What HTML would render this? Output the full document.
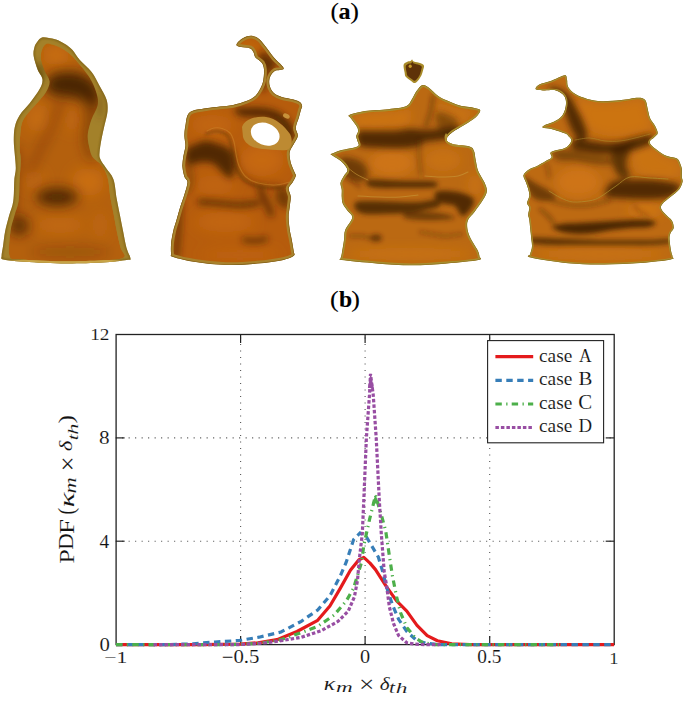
<!DOCTYPE html>
<html><head><meta charset="utf-8"><style>
html,body{margin:0;padding:0;background:#fff;}
svg{display:block;}
.t{font-family:"Liberation Serif",serif;font-size:18px;fill:#111;}
.b{font-family:"Liberation Serif",serif;font-size:26px;font-weight:bold;fill:#000;}
</style></head><body>
<svg width="685" height="709" viewBox="0 0 685 709">
<defs>
<filter id="g0_8" x="-50%" y="-50%" width="200%" height="200%"><feGaussianBlur stdDeviation="0.8"/></filter>
<filter id="g1_5" x="-50%" y="-50%" width="200%" height="200%"><feGaussianBlur stdDeviation="1.5"/></filter>
<filter id="g2_5" x="-50%" y="-50%" width="200%" height="200%"><feGaussianBlur stdDeviation="2.5"/></filter>
<filter id="g3" x="-50%" y="-50%" width="200%" height="200%"><feGaussianBlur stdDeviation="3"/></filter>
<filter id="g3_5" x="-50%" y="-50%" width="200%" height="200%"><feGaussianBlur stdDeviation="3.5"/></filter>
<filter id="g4" x="-50%" y="-50%" width="200%" height="200%"><feGaussianBlur stdDeviation="4"/></filter>
<filter id="g5" x="-50%" y="-50%" width="200%" height="200%"><feGaussianBlur stdDeviation="5"/></filter>
<filter id="g6" x="-50%" y="-50%" width="200%" height="200%"><feGaussianBlur stdDeviation="6"/></filter>
<filter id="g7" x="-50%" y="-50%" width="200%" height="200%"><feGaussianBlur stdDeviation="7"/></filter>
<clipPath id="c1"><path d="M41.9,37.6 C43.8,37.0 46.5,37.7 48.9,38.0 C51.2,38.3 53.3,38.5 56.0,39.5 C58.7,40.5 62.2,42.2 65.0,44.0 C67.8,45.8 70.0,47.3 72.5,50.0 C75.0,52.7 76.6,56.4 79.8,60.0 C83.0,63.6 88.3,67.6 91.6,71.9 C94.9,76.2 97.0,81.1 99.5,85.7 C102.0,90.3 105.2,95.2 106.5,99.5 C107.8,103.8 107.8,107.1 107.5,111.4 C107.2,115.7 105.5,120.7 104.5,125.3 C103.5,129.9 102.3,134.5 101.5,139.1 C100.7,143.7 99.7,149.5 99.5,152.9 C99.3,156.3 99.4,157.0 100.5,159.5 C101.6,162.0 103.8,164.6 106.0,167.9 C108.2,171.2 111.6,174.1 113.4,179.2 C115.2,184.3 115.6,192.8 116.7,198.7 C117.8,204.6 118.8,209.5 119.9,214.9 C121.0,220.3 122.0,225.8 123.1,231.2 C124.2,236.6 125.2,242.8 126.4,247.4 C127.6,252.0 130.4,256.4 130.5,258.5 C130.6,260.6 131.4,259.3 126.7,260.0 C122.0,260.7 113.1,262.0 102.2,262.6 C91.3,263.2 74.9,263.7 61.3,263.5 C47.7,263.3 30.1,262.3 20.4,261.6 C10.7,260.9 6.2,260.4 3.1,259.5 C-0.0,258.6 1.6,258.3 1.6,256.0 C1.6,253.7 2.5,249.9 3.1,245.8 C3.7,241.7 4.1,236.6 5.1,231.5 C6.1,226.4 7.8,220.3 9.2,215.2 C10.6,210.1 12.5,206.7 13.3,200.9 C14.2,195.1 13.9,185.8 14.3,180.4 C14.7,175.0 15.7,172.7 15.8,168.4 C15.9,164.1 15.1,159.2 14.8,154.6 C14.5,150.0 13.8,145.3 13.8,140.7 C13.8,136.1 13.8,131.2 14.8,126.9 C15.8,122.6 17.3,119.0 19.8,115.0 C22.3,111.0 26.4,107.5 29.7,103.2 C33.0,98.9 37.4,93.3 39.5,89.3 C41.6,85.3 42.8,82.7 42.5,79.4 C42.2,76.1 39.1,73.5 37.6,69.5 C36.1,65.5 34.1,59.5 33.6,55.7 C33.1,52.0 33.9,49.4 34.5,47.0 C35.1,44.6 36.3,43.1 37.5,41.5 C38.7,39.9 40.0,38.2 41.9,37.6Z"/></clipPath>
<clipPath id="c2"><path d="M236.4,45.1 C236.2,44.0 238.0,41.9 239.7,40.5 C241.3,39.1 244.1,37.4 246.3,36.6 C248.5,35.8 250.7,35.5 252.9,35.9 C255.1,36.3 257.2,37.3 259.4,39.2 C261.6,41.1 263.6,44.0 266.0,47.1 C268.4,50.2 271.3,54.5 273.9,57.6 C276.5,60.7 280.2,63.6 281.8,65.5 C283.4,67.4 283.9,68.0 283.7,68.8 C283.5,69.6 281.8,69.8 280.4,70.1 C279.0,70.4 276.7,69.9 275.2,70.7 C273.7,71.5 272.2,73.2 271.2,74.7 C270.2,76.2 269.5,77.9 269.3,79.9 C269.1,81.9 269.1,84.3 269.9,86.5 C270.7,88.7 271.9,91.3 273.9,93.1 C275.9,94.8 278.5,95.9 281.8,97.0 C285.1,98.1 290.5,98.7 293.6,99.6 C296.7,100.5 298.8,101.2 300.2,102.3 C301.6,103.4 302.0,104.9 302.1,106.2 C302.2,107.5 301.4,108.1 300.9,110.0 C300.4,111.9 299.8,114.5 298.9,117.5 C298.0,120.5 296.0,124.6 295.8,127.7 C295.6,130.8 298.1,133.2 297.8,135.9 C297.5,138.6 295.2,141.3 293.8,144.0 C292.4,146.7 290.2,149.1 289.7,152.2 C289.2,155.3 289.8,159.0 290.7,162.4 C291.6,165.8 293.9,170.4 294.8,172.7 C295.7,175.0 296.2,174.5 295.8,176.1 C295.4,177.7 293.9,180.2 292.7,182.3 C291.5,184.4 288.9,186.0 288.6,188.4 C288.3,190.8 290.5,193.5 290.7,196.6 C290.9,199.7 290.0,203.4 289.7,206.8 C289.4,210.2 288.6,213.2 288.6,217.0 C288.6,220.8 289.2,225.6 289.7,229.3 C290.2,233.1 291.0,235.8 291.7,239.5 C292.4,243.2 293.4,249.0 293.8,251.7 C294.2,254.4 295.5,254.4 293.8,255.8 C292.1,257.2 289.6,258.6 283.5,259.9 C277.4,261.2 266.5,262.8 257.0,263.6 C247.5,264.5 236.5,265.3 226.3,265.0 C216.1,264.7 204.5,263.4 195.7,262.0 C186.8,260.6 177.3,258.3 173.2,256.9 C169.1,255.5 171.4,256.0 171.1,253.8 C170.8,251.6 170.8,247.3 171.1,243.6 C171.4,239.8 172.3,235.1 173.2,231.3 C174.0,227.6 175.0,225.2 176.2,221.1 C177.4,217.0 178.9,211.2 180.3,206.8 C181.7,202.4 183.2,198.6 184.4,194.5 C185.6,190.4 187.5,185.3 187.5,182.3 C187.5,179.3 185.2,179.3 184.4,176.7 C183.6,174.1 182.6,169.9 182.4,166.5 C182.2,163.1 182.9,159.7 183.4,156.3 C183.9,152.9 185.2,149.5 185.4,146.1 C185.6,142.7 184.4,139.3 184.4,135.9 C184.4,132.5 184.6,129.6 185.4,125.7 C186.2,121.8 186.1,115.3 189.5,112.4 C192.9,109.5 200.8,109.3 205.9,108.3 C211.0,107.3 215.5,107.1 220.0,106.5 C224.5,105.9 228.7,105.8 233.1,104.9 C237.5,104.0 242.6,102.5 246.3,101.0 C250.0,99.5 253.1,97.9 255.5,95.7 C257.9,93.5 259.4,90.4 260.7,87.8 C262.0,85.2 262.8,83.0 263.4,79.9 C263.9,76.8 264.2,72.2 264.0,69.4 C263.8,66.6 263.4,64.9 262.0,62.9 C260.6,60.9 256.9,59.4 255.5,57.6 C254.1,55.8 254.4,53.8 253.5,52.3 C252.6,50.8 252.3,49.3 250.2,48.4 C248.1,47.5 243.3,47.6 241.0,47.1 C238.7,46.6 236.6,46.2 236.4,45.1Z"/></clipPath>
<clipPath id="c3"><path d="M422.5,85.1 C424.5,84.5 426.0,85.7 428.6,87.5 C431.2,89.3 435.0,93.7 438.2,95.9 C441.4,98.1 444.2,99.2 447.8,100.8 C451.4,102.4 455.5,104.4 459.9,105.6 C464.3,106.8 470.9,107.2 474.3,108.0 C477.7,108.8 480.1,108.8 480.3,110.4 C480.5,112.0 478.1,115.2 475.5,117.6 C472.9,120.0 468.5,122.4 464.7,124.8 C460.9,127.2 455.6,129.7 452.6,132.1 C449.6,134.5 446.6,137.3 446.6,139.3 C446.6,141.3 448.8,142.9 452.6,144.1 C456.4,145.3 465.9,145.3 469.5,146.5 C473.1,147.7 473.0,148.8 474.0,151.0 C475.0,153.2 475.0,156.7 475.7,160.0 C476.4,163.3 476.8,167.3 478.2,171.0 C479.6,174.7 482.9,179.0 484.4,182.3 C485.8,185.6 487.1,188.1 486.9,191.0 C486.7,193.9 485.3,196.1 483.2,199.6 C481.1,203.1 477.0,208.7 474.5,212.0 C472.0,215.3 469.5,217.0 468.3,219.5 C467.1,222.0 467.0,224.2 467.2,227.0 C467.4,229.8 468.3,233.0 469.5,236.0 C470.7,239.0 473.1,242.5 474.5,245.0 C475.9,247.5 477.2,249.1 478.0,251.0 C478.8,252.9 479.4,254.9 479.5,256.4 C479.6,257.9 483.8,258.8 478.3,260.0 C472.9,261.2 457.9,262.5 446.8,263.4 C435.7,264.3 423.5,265.3 411.8,265.3 C400.1,265.3 388.4,264.3 376.7,263.4 C365.0,262.5 347.7,260.8 341.7,260.0 C335.7,259.2 340.5,259.8 340.5,258.8 C340.5,257.8 341.1,257.1 341.7,254.0 C342.3,250.9 343.4,244.0 344.0,240.0 C344.6,236.0 343.8,233.7 345.2,230.0 C346.6,226.3 351.8,220.9 352.2,217.7 C352.6,214.5 349.1,213.0 347.5,210.7 C345.9,208.4 343.8,206.0 342.8,203.7 C341.8,201.4 341.9,199.0 341.7,196.7 C341.5,194.4 341.9,192.0 341.7,189.7 C341.5,187.4 340.1,185.0 340.5,182.7 C340.9,180.4 342.8,177.8 344.0,175.7 C345.2,173.6 347.9,172.2 347.5,169.9 C347.1,167.6 344.4,164.2 341.7,161.7 C339.0,159.2 332.8,156.0 331.2,154.7 C329.6,153.3 330.6,154.4 332.3,153.6 C334.1,152.8 338.2,151.0 341.7,150.0 C345.2,149.0 350.6,148.5 353.4,147.7 C356.2,146.9 357.9,146.6 358.6,145.4 C359.3,144.2 357.8,142.3 357.4,140.7 C357.0,139.1 356.2,137.6 356.3,136.0 C356.4,134.4 357.9,133.0 358.0,131.4 C358.1,129.8 358.1,128.8 356.9,126.7 C355.7,124.5 352.3,120.5 351.0,118.5 C349.7,116.5 347.0,116.2 349.3,115.0 C351.6,113.8 358.5,112.0 365.0,111.0 C371.5,110.0 381.6,110.0 388.4,109.2 C395.2,108.4 402.1,107.9 406.0,106.3 C409.9,104.7 409.9,102.1 411.7,99.6 C413.4,97.1 414.7,93.5 416.5,91.1 C418.3,88.7 420.5,85.7 422.5,85.1Z"/></clipPath>
<clipPath id="c4"><path d="M535.7,89.3 C534.9,88.3 536.7,85.9 539.3,84.5 C541.9,83.1 547.1,82.3 551.3,80.8 C555.5,79.3 562.0,75.5 564.6,75.3 C567.2,75.1 566.4,77.7 567.0,79.6 C567.6,81.5 566.8,84.5 568.2,86.9 C569.6,89.3 572.2,92.1 575.4,94.1 C578.6,96.1 583.0,97.7 587.4,98.9 C591.8,100.1 596.3,101.1 601.9,101.3 C607.5,101.5 615.2,100.7 621.2,100.1 C627.2,99.5 634.0,97.7 638.0,97.7 C642.0,97.7 643.6,98.3 645.2,100.1 C646.8,101.9 646.8,105.5 647.6,108.5 C648.4,111.5 648.9,115.4 650.1,118.2 C651.3,121.0 653.6,122.9 654.9,125.4 C656.2,127.9 657.8,131.1 657.7,133.0 C657.7,134.9 656.0,135.4 654.6,137.0 C653.2,138.6 649.2,140.2 649.6,142.4 C650.0,144.6 654.1,147.6 657.0,149.9 C659.9,152.2 663.7,154.6 667.0,156.0 C670.3,157.4 674.7,157.1 677.0,158.5 C679.3,159.9 679.8,162.8 680.6,164.7 C681.4,166.6 681.7,167.6 681.9,169.7 C682.1,171.8 681.8,175.0 681.9,177.1 C682.0,179.2 683.0,180.0 682.5,182.1 C682.0,184.2 681.1,187.1 679.1,189.6 C677.1,192.1 673.5,194.4 670.7,196.8 C667.9,199.2 664.0,202.0 662.4,204.0 C660.8,206.0 660.6,207.0 661.2,208.8 C661.8,210.6 664.2,212.8 666.0,214.8 C667.8,216.8 670.7,218.5 672.0,220.7 C673.3,222.9 673.9,226.0 673.7,228.0 C673.5,230.0 671.4,231.1 670.7,232.7 C670.0,234.3 669.6,235.5 669.5,237.5 C669.4,239.5 669.8,242.3 670.1,244.7 C670.4,247.1 670.9,249.9 671.3,251.9 C671.7,253.9 672.6,255.4 672.5,256.7 C672.4,258.0 676.1,258.4 670.7,259.5 C665.4,260.6 651.5,262.2 640.4,263.0 C629.3,263.8 616.3,264.4 604.3,264.5 C592.3,264.6 580.5,264.5 568.2,263.3 C556.0,262.1 537.1,259.1 530.8,257.5 C524.5,255.9 530.0,255.9 530.2,254.0 C530.4,252.1 531.9,249.6 532.0,246.3 C532.1,243.0 531.2,238.7 530.8,234.3 C530.3,229.9 529.7,223.3 529.3,220.0 C528.9,216.7 528.2,216.8 528.2,214.7 C528.2,212.6 529.5,209.6 529.3,207.7 C529.1,205.8 527.0,204.9 527.0,203.0 C527.0,201.1 529.1,198.3 529.3,196.0 C529.5,193.7 528.8,191.3 528.2,189.0 C527.6,186.7 526.6,184.3 525.8,182.0 C525.0,179.7 522.9,177.1 523.5,175.0 C524.1,172.9 527.0,170.8 529.3,169.2 C531.6,167.6 534.8,167.1 537.5,165.7 C540.2,164.3 543.4,162.4 545.7,161.0 C548.0,159.6 550.7,158.9 551.5,157.5 C552.3,156.1 549.8,154.0 550.4,152.8 C551.0,151.6 552.7,151.3 555.0,150.5 C557.3,149.7 562.1,149.2 564.4,148.2 C566.7,147.2 567.8,146.1 569.0,144.7 C570.2,143.3 571.5,141.4 571.4,140.0 C571.3,138.6 569.1,137.0 568.2,136.0 C567.3,135.0 568.6,135.0 565.8,133.8 C563.0,132.6 555.1,130.0 551.3,129.0 C547.5,128.0 544.1,128.4 542.9,127.8 C541.7,127.2 542.3,126.4 544.1,125.4 C545.9,124.4 550.7,123.4 553.7,121.8 C556.7,120.2 560.1,118.4 562.1,115.8 C564.1,113.2 565.4,109.3 565.8,106.1 C566.2,102.9 566.2,99.1 564.6,96.5 C563.0,93.9 559.5,91.5 556.1,90.5 C552.7,89.5 547.5,90.7 544.1,90.5 C540.7,90.3 536.5,90.3 535.7,89.3Z"/></clipPath>
<clipPath id="c1i"><path d="M46.3,43.8 C48.0,42.9 49.7,43.9 52.0,44.5 C54.3,45.1 57.3,46.2 60.0,47.5 C62.7,48.8 65.4,50.4 68.0,52.5 C70.6,54.6 72.2,55.8 75.8,60.0 C79.4,64.2 86.2,72.2 89.7,77.8 C93.2,83.4 95.3,89.0 96.6,93.6 C97.9,98.2 98.4,101.2 97.6,105.5 C96.8,109.8 93.2,114.4 91.6,119.3 C89.9,124.2 88.0,130.2 87.7,135.1 C87.4,140.0 88.9,145.4 89.7,149.0 C90.5,152.6 91.0,154.6 92.6,156.9 C94.2,159.2 97.6,161.0 99.5,163.0 C101.4,165.0 102.6,166.3 104.0,169.0 C105.4,171.7 106.9,174.2 108.0,179.2 C109.1,184.1 109.6,192.8 110.6,198.7 C111.6,204.6 112.8,209.5 113.8,214.9 C114.8,220.3 115.7,225.8 116.8,231.2 C117.9,236.6 119.3,243.0 120.5,247.4 C121.7,251.8 126.9,255.3 123.8,257.5 C120.7,259.6 112.4,259.7 102.0,260.3 C91.6,260.9 75.0,261.5 61.3,261.3 C47.6,261.1 28.6,260.2 20.0,259.3 C11.4,258.4 11.1,260.6 9.5,256.0 C7.9,251.4 9.7,238.3 10.5,231.5 C11.3,224.7 13.2,220.3 14.5,215.2 C15.8,210.1 17.8,206.7 18.6,200.9 C19.5,195.1 19.2,187.2 19.6,180.4 C20.0,173.6 20.8,165.3 20.8,160.0 C20.8,154.7 19.8,153.8 19.8,148.6 C19.8,143.4 20.0,134.1 20.8,128.9 C21.6,123.7 22.1,121.7 24.7,117.5 C27.3,113.3 32.7,108.2 36.2,104.0 C39.8,99.8 43.8,95.8 46.0,92.0 C48.2,88.2 49.8,84.8 49.6,81.4 C49.4,78.0 46.2,75.1 44.8,71.5 C43.4,67.9 41.5,63.3 41.0,59.7 C40.5,56.1 41.1,52.4 42.0,49.8 C42.9,47.1 44.6,44.7 46.3,43.8Z"/></clipPath>
</defs>
<path d="M41.9,37.6 C43.8,37.0 46.5,37.7 48.9,38.0 C51.2,38.3 53.3,38.5 56.0,39.5 C58.7,40.5 62.2,42.2 65.0,44.0 C67.8,45.8 70.0,47.3 72.5,50.0 C75.0,52.7 76.6,56.4 79.8,60.0 C83.0,63.6 88.3,67.6 91.6,71.9 C94.9,76.2 97.0,81.1 99.5,85.7 C102.0,90.3 105.2,95.2 106.5,99.5 C107.8,103.8 107.8,107.1 107.5,111.4 C107.2,115.7 105.5,120.7 104.5,125.3 C103.5,129.9 102.3,134.5 101.5,139.1 C100.7,143.7 99.7,149.5 99.5,152.9 C99.3,156.3 99.4,157.0 100.5,159.5 C101.6,162.0 103.8,164.6 106.0,167.9 C108.2,171.2 111.6,174.1 113.4,179.2 C115.2,184.3 115.6,192.8 116.7,198.7 C117.8,204.6 118.8,209.5 119.9,214.9 C121.0,220.3 122.0,225.8 123.1,231.2 C124.2,236.6 125.2,242.8 126.4,247.4 C127.6,252.0 130.4,256.4 130.5,258.5 C130.6,260.6 131.4,259.3 126.7,260.0 C122.0,260.7 113.1,262.0 102.2,262.6 C91.3,263.2 74.9,263.7 61.3,263.5 C47.7,263.3 30.1,262.3 20.4,261.6 C10.7,260.9 6.2,260.4 3.1,259.5 C-0.0,258.6 1.6,258.3 1.6,256.0 C1.6,253.7 2.5,249.9 3.1,245.8 C3.7,241.7 4.1,236.6 5.1,231.5 C6.1,226.4 7.8,220.3 9.2,215.2 C10.6,210.1 12.5,206.7 13.3,200.9 C14.2,195.1 13.9,185.8 14.3,180.4 C14.7,175.0 15.7,172.7 15.8,168.4 C15.9,164.1 15.1,159.2 14.8,154.6 C14.5,150.0 13.8,145.3 13.8,140.7 C13.8,136.1 13.8,131.2 14.8,126.9 C15.8,122.6 17.3,119.0 19.8,115.0 C22.3,111.0 26.4,107.5 29.7,103.2 C33.0,98.9 37.4,93.3 39.5,89.3 C41.6,85.3 42.8,82.7 42.5,79.4 C42.2,76.1 39.1,73.5 37.6,69.5 C36.1,65.5 34.1,59.5 33.6,55.7 C33.1,52.0 33.9,49.4 34.5,47.0 C35.1,44.6 36.3,43.1 37.5,41.5 C38.7,39.9 40.0,38.2 41.9,37.6Z" fill="#a3812a"/>
<g clip-path="url(#c1)"><path d="M41.9,37.6 C43.8,37.0 46.5,37.7 48.9,38.0 C51.2,38.3 53.3,38.5 56.0,39.5 C58.7,40.5 62.2,42.2 65.0,44.0 C67.8,45.8 70.0,47.3 72.5,50.0 C75.0,52.7 76.6,56.4 79.8,60.0 C83.0,63.6 88.3,67.6 91.6,71.9 C94.9,76.2 97.0,81.1 99.5,85.7 C102.0,90.3 105.2,95.2 106.5,99.5 C107.8,103.8 107.8,107.1 107.5,111.4 C107.2,115.7 105.5,120.7 104.5,125.3 C103.5,129.9 102.3,134.5 101.5,139.1 C100.7,143.7 99.7,149.5 99.5,152.9 C99.3,156.3 99.4,157.0 100.5,159.5 C101.6,162.0 103.8,164.6 106.0,167.9 C108.2,171.2 111.6,174.1 113.4,179.2 C115.2,184.3 115.6,192.8 116.7,198.7 C117.8,204.6 118.8,209.5 119.9,214.9 C121.0,220.3 122.0,225.8 123.1,231.2 C124.2,236.6 125.2,242.8 126.4,247.4 C127.6,252.0 130.4,256.4 130.5,258.5 C130.6,260.6 131.4,259.3 126.7,260.0 C122.0,260.7 113.1,262.0 102.2,262.6 C91.3,263.2 74.9,263.7 61.3,263.5 C47.7,263.3 30.1,262.3 20.4,261.6 C10.7,260.9 6.2,260.4 3.1,259.5 C-0.0,258.6 1.6,258.3 1.6,256.0 C1.6,253.7 2.5,249.9 3.1,245.8 C3.7,241.7 4.1,236.6 5.1,231.5 C6.1,226.4 7.8,220.3 9.2,215.2 C10.6,210.1 12.5,206.7 13.3,200.9 C14.2,195.1 13.9,185.8 14.3,180.4 C14.7,175.0 15.7,172.7 15.8,168.4 C15.9,164.1 15.1,159.2 14.8,154.6 C14.5,150.0 13.8,145.3 13.8,140.7 C13.8,136.1 13.8,131.2 14.8,126.9 C15.8,122.6 17.3,119.0 19.8,115.0 C22.3,111.0 26.4,107.5 29.7,103.2 C33.0,98.9 37.4,93.3 39.5,89.3 C41.6,85.3 42.8,82.7 42.5,79.4 C42.2,76.1 39.1,73.5 37.6,69.5 C36.1,65.5 34.1,59.5 33.6,55.7 C33.1,52.0 33.9,49.4 34.5,47.0 C35.1,44.6 36.3,43.1 37.5,41.5 C38.7,39.9 40.0,38.2 41.9,37.6Z" fill="none" stroke="#7a6018" stroke-width="2" filter="url(#g0_8)"/>
<ellipse cx="66" cy="262" rx="64" ry="3" fill="#caa64a" opacity="0.95"/>
<g filter="url(#g3_5)">
<ellipse cx="40" cy="72" rx="6" ry="10" fill="#4a3008" opacity="0.45"/>
<ellipse cx="100" cy="105" rx="4" ry="14" fill="#4a3008" opacity="0.25"/>
</g>
</g>
<g clip-path="url(#c1i)">
<path d="M46.3,43.8 C48.0,42.9 49.7,43.9 52.0,44.5 C54.3,45.1 57.3,46.2 60.0,47.5 C62.7,48.8 65.4,50.4 68.0,52.5 C70.6,54.6 72.2,55.8 75.8,60.0 C79.4,64.2 86.2,72.2 89.7,77.8 C93.2,83.4 95.3,89.0 96.6,93.6 C97.9,98.2 98.4,101.2 97.6,105.5 C96.8,109.8 93.2,114.4 91.6,119.3 C89.9,124.2 88.0,130.2 87.7,135.1 C87.4,140.0 88.9,145.4 89.7,149.0 C90.5,152.6 91.0,154.6 92.6,156.9 C94.2,159.2 97.6,161.0 99.5,163.0 C101.4,165.0 102.6,166.3 104.0,169.0 C105.4,171.7 106.9,174.2 108.0,179.2 C109.1,184.1 109.6,192.8 110.6,198.7 C111.6,204.6 112.8,209.5 113.8,214.9 C114.8,220.3 115.7,225.8 116.8,231.2 C117.9,236.6 119.3,243.0 120.5,247.4 C121.7,251.8 126.9,255.3 123.8,257.5 C120.7,259.6 112.4,259.7 102.0,260.3 C91.6,260.9 75.0,261.5 61.3,261.3 C47.6,261.1 28.6,260.2 20.0,259.3 C11.4,258.4 11.1,260.6 9.5,256.0 C7.9,251.4 9.7,238.3 10.5,231.5 C11.3,224.7 13.2,220.3 14.5,215.2 C15.8,210.1 17.8,206.7 18.6,200.9 C19.5,195.1 19.2,187.2 19.6,180.4 C20.0,173.6 20.8,165.3 20.8,160.0 C20.8,154.7 19.8,153.8 19.8,148.6 C19.8,143.4 20.0,134.1 20.8,128.9 C21.6,123.7 22.1,121.7 24.7,117.5 C27.3,113.3 32.7,108.2 36.2,104.0 C39.8,99.8 43.8,95.8 46.0,92.0 C48.2,88.2 49.8,84.8 49.6,81.4 C49.4,78.0 46.2,75.1 44.8,71.5 C43.4,67.9 41.5,63.3 41.0,59.7 C40.5,56.1 41.1,52.4 42.0,49.8 C42.9,47.1 44.6,44.7 46.3,43.8Z" fill="#b4600d"/>
<g filter="url(#g7)">
<ellipse cx="56" cy="55" rx="14" ry="10" fill="#d27412" opacity="0.7"/>
<ellipse cx="38" cy="118" rx="12" ry="14" fill="#d27412" opacity="0.55"/>
<ellipse cx="72" cy="120" rx="8" ry="12" fill="#d27412" opacity="0.4"/>
<ellipse cx="88" cy="182" rx="16" ry="14" fill="#d27412" opacity="0.7"/>
<ellipse cx="34" cy="180" rx="10" ry="10" fill="#d27412" opacity="0.4"/>
<ellipse cx="60" cy="225" rx="25" ry="8" fill="#d27412" opacity="0.45"/>
<ellipse cx="100" cy="225" rx="8" ry="14" fill="#d27412" opacity="0.35"/>
</g>
<g filter="url(#g6)">
<path d="M46.0,82.0 C47.0,79.0 50.0,75.7 54.0,74.0 C58.0,72.3 64.7,71.7 70.0,72.0 C75.3,72.3 81.3,73.3 86.0,76.0 C90.7,78.7 95.7,83.3 98.0,88.0 C100.3,92.7 101.3,101.3 100.0,104.0 C98.7,106.7 94.0,105.0 90.0,104.0 C86.0,103.0 81.0,99.3 76.0,98.0 C71.0,96.7 64.7,97.0 60.0,96.0 C55.3,95.0 50.3,94.3 48.0,92.0 C45.7,89.7 45.0,85.0 46.0,82.0Z" fill="#3e2004" opacity="0.9"/>
<path d="M82.0,98.0 C83.3,96.5 89.2,94.0 92.0,96.0 C94.8,98.0 98.5,104.3 99.0,110.0 C99.5,115.7 96.0,123.3 95.0,130.0 C94.0,136.7 92.8,144.7 93.0,150.0 C93.2,155.3 96.8,160.7 96.0,162.0 C95.2,163.3 90.2,161.7 88.0,158.0 C85.8,154.3 83.5,146.3 83.0,140.0 C82.5,133.7 84.8,125.8 85.0,120.0 C85.2,114.2 84.5,108.7 84.0,105.0 C83.5,101.3 80.7,99.5 82.0,98.0Z" fill="#5a2c04" opacity="0.5"/>
<ellipse cx="57" cy="197" rx="21" ry="9" fill="#3e2004" opacity="0.85"/>
<ellipse cx="20" cy="226" rx="9" ry="10" fill="#3e2004" opacity="0.7"/>
<path d="M60.0,104.0 C58.3,108.3 53.3,122.3 50.0,130.0 C46.7,137.7 43.3,143.0 40.0,150.0 C36.7,157.0 31.7,168.3 30.0,172.0" fill="none" stroke="#3e2004" stroke-width="6" opacity="0.3" stroke-linecap="round"/>
<path d="M16.0,150.0 C15.7,156.7 14.7,176.7 14.0,190.0 C13.3,203.3 12.3,223.3 12.0,230.0" fill="none" stroke="#3e2004" stroke-width="8" opacity="0.35" stroke-linecap="round"/>
<ellipse cx="70" cy="252" rx="40" ry="6" fill="#3e2004" opacity="0.2"/>
</g>
</g>
<g clip-path="url(#c2)">
<path d="M236.4,45.1 C236.2,44.0 238.0,41.9 239.7,40.5 C241.3,39.1 244.1,37.4 246.3,36.6 C248.5,35.8 250.7,35.5 252.9,35.9 C255.1,36.3 257.2,37.3 259.4,39.2 C261.6,41.1 263.6,44.0 266.0,47.1 C268.4,50.2 271.3,54.5 273.9,57.6 C276.5,60.7 280.2,63.6 281.8,65.5 C283.4,67.4 283.9,68.0 283.7,68.8 C283.5,69.6 281.8,69.8 280.4,70.1 C279.0,70.4 276.7,69.9 275.2,70.7 C273.7,71.5 272.2,73.2 271.2,74.7 C270.2,76.2 269.5,77.9 269.3,79.9 C269.1,81.9 269.1,84.3 269.9,86.5 C270.7,88.7 271.9,91.3 273.9,93.1 C275.9,94.8 278.5,95.9 281.8,97.0 C285.1,98.1 290.5,98.7 293.6,99.6 C296.7,100.5 298.8,101.2 300.2,102.3 C301.6,103.4 302.0,104.9 302.1,106.2 C302.2,107.5 301.4,108.1 300.9,110.0 C300.4,111.9 299.8,114.5 298.9,117.5 C298.0,120.5 296.0,124.6 295.8,127.7 C295.6,130.8 298.1,133.2 297.8,135.9 C297.5,138.6 295.2,141.3 293.8,144.0 C292.4,146.7 290.2,149.1 289.7,152.2 C289.2,155.3 289.8,159.0 290.7,162.4 C291.6,165.8 293.9,170.4 294.8,172.7 C295.7,175.0 296.2,174.5 295.8,176.1 C295.4,177.7 293.9,180.2 292.7,182.3 C291.5,184.4 288.9,186.0 288.6,188.4 C288.3,190.8 290.5,193.5 290.7,196.6 C290.9,199.7 290.0,203.4 289.7,206.8 C289.4,210.2 288.6,213.2 288.6,217.0 C288.6,220.8 289.2,225.6 289.7,229.3 C290.2,233.1 291.0,235.8 291.7,239.5 C292.4,243.2 293.4,249.0 293.8,251.7 C294.2,254.4 295.5,254.4 293.8,255.8 C292.1,257.2 289.6,258.6 283.5,259.9 C277.4,261.2 266.5,262.8 257.0,263.6 C247.5,264.5 236.5,265.3 226.3,265.0 C216.1,264.7 204.5,263.4 195.7,262.0 C186.8,260.6 177.3,258.3 173.2,256.9 C169.1,255.5 171.4,256.0 171.1,253.8 C170.8,251.6 170.8,247.3 171.1,243.6 C171.4,239.8 172.3,235.1 173.2,231.3 C174.0,227.6 175.0,225.2 176.2,221.1 C177.4,217.0 178.9,211.2 180.3,206.8 C181.7,202.4 183.2,198.6 184.4,194.5 C185.6,190.4 187.5,185.3 187.5,182.3 C187.5,179.3 185.2,179.3 184.4,176.7 C183.6,174.1 182.6,169.9 182.4,166.5 C182.2,163.1 182.9,159.7 183.4,156.3 C183.9,152.9 185.2,149.5 185.4,146.1 C185.6,142.7 184.4,139.3 184.4,135.9 C184.4,132.5 184.6,129.6 185.4,125.7 C186.2,121.8 186.1,115.3 189.5,112.4 C192.9,109.5 200.8,109.3 205.9,108.3 C211.0,107.3 215.5,107.1 220.0,106.5 C224.5,105.9 228.7,105.8 233.1,104.9 C237.5,104.0 242.6,102.5 246.3,101.0 C250.0,99.5 253.1,97.9 255.5,95.7 C257.9,93.5 259.4,90.4 260.7,87.8 C262.0,85.2 262.8,83.0 263.4,79.9 C263.9,76.8 264.2,72.2 264.0,69.4 C263.8,66.6 263.4,64.9 262.0,62.9 C260.6,60.9 256.9,59.4 255.5,57.6 C254.1,55.8 254.4,53.8 253.5,52.3 C252.6,50.8 252.3,49.3 250.2,48.4 C248.1,47.5 243.3,47.6 241.0,47.1 C238.7,46.6 236.6,46.2 236.4,45.1Z" fill="#b65c0c"/>
<g filter="url(#g7)">
<ellipse cx="250" cy="50" rx="10" ry="6" fill="#d87a18" opacity="0.6" transform="rotate(30 250 50)"/>
<ellipse cx="212" cy="125" rx="22" ry="10" fill="#d07015" opacity="0.5"/>
<ellipse cx="262" cy="160" rx="22" ry="16" fill="#d07015" opacity="0.6"/>
<ellipse cx="215" cy="185" rx="20" ry="10" fill="#d07015" opacity="0.4"/>
<ellipse cx="225" cy="222" rx="30" ry="10" fill="#d07015" opacity="0.5"/>
<ellipse cx="240" cy="255" rx="40" ry="6" fill="#d07015" opacity="0.35"/>
</g>
<g filter="url(#g3_5)">
<path d="M262.0,52.0 C264.0,51.7 267.5,54.0 270.0,56.0 C272.5,58.0 276.7,61.7 277.0,64.0 C277.3,66.3 273.7,68.0 272.0,70.0 C270.3,72.0 268.0,73.0 267.0,76.0 C266.0,79.0 266.8,85.3 266.0,88.0 C265.2,90.7 263.0,93.3 262.0,92.0 C261.0,90.7 260.0,84.0 260.0,80.0 C260.0,76.0 262.3,71.7 262.0,68.0 C261.7,64.3 258.0,60.7 258.0,58.0 C258.0,55.3 260.0,52.3 262.0,52.0Z" fill="#3e2004" opacity="0.7"/>
<path d="M236.0,108.0 C238.0,107.2 243.7,108.0 248.0,108.0 C252.3,108.0 257.3,107.5 262.0,108.0 C266.7,108.5 272.0,109.3 276.0,111.0 C280.0,112.7 283.2,115.2 286.0,118.0 C288.8,120.8 291.7,124.0 293.0,128.0 C294.3,132.0 295.0,140.3 294.0,142.0 C293.0,143.7 289.3,140.7 287.0,138.0 C284.7,135.3 283.2,129.3 280.0,126.0 C276.8,122.7 272.3,119.5 268.0,118.0 C263.7,116.5 258.3,117.3 254.0,117.0 C249.7,116.7 245.0,116.7 242.0,116.0 C239.0,115.3 237.0,114.3 236.0,113.0 C235.0,111.7 234.0,108.8 236.0,108.0Z" fill="#3e2004" opacity="0.85"/>
<path d="M186.0,150.0 C187.3,146.7 192.7,145.5 196.0,144.0 C199.3,142.5 202.3,141.0 206.0,141.0 C209.7,141.0 214.0,142.5 218.0,144.0 C222.0,145.5 227.3,146.7 230.0,150.0 C232.7,153.3 233.7,159.3 234.0,164.0 C234.3,168.7 233.7,176.3 232.0,178.0 C230.3,179.7 227.0,176.3 224.0,174.0 C221.0,171.7 217.7,166.0 214.0,164.0 C210.3,162.0 206.3,162.0 202.0,162.0 C197.7,162.0 190.7,166.0 188.0,164.0 C185.3,162.0 184.7,153.3 186.0,150.0Z" fill="#3e2004" opacity="0.85"/>
<path d="M233.0,150.0 C233.5,152.5 234.2,160.5 236.0,165.0 C237.8,169.5 240.3,173.8 244.0,177.0 C247.7,180.2 252.3,182.5 258.0,184.0 C263.7,185.5 274.7,185.7 278.0,186.0" fill="none" stroke="#3e2004" stroke-width="3" opacity="0.45" stroke-linecap="round"/>
<path d="M200.0,202.0 C202.5,202.2 208.3,202.5 215.0,203.0 C221.7,203.5 232.8,205.0 240.0,205.0 C247.2,205.0 255.0,203.3 258.0,203.0" fill="none" stroke="#3e2004" stroke-width="5" opacity="0.8" stroke-linecap="round"/>
<path d="M278.0,188.0 C280.0,186.3 285.8,187.2 288.0,190.0 C290.2,192.8 291.7,202.0 291.0,205.0 C290.3,208.0 286.5,208.8 284.0,208.0 C281.5,207.2 277.0,203.3 276.0,200.0 C275.0,196.7 276.0,189.7 278.0,188.0Z" fill="#3e2004" opacity="0.55"/>
<path d="M260.0,190.0 C261.0,192.0 264.2,198.0 266.0,202.0 C267.8,206.0 270.2,212.0 271.0,214.0" fill="none" stroke="#3e2004" stroke-width="6" opacity="0.7" stroke-linecap="round"/>
<path d="M244.0,240.0 C246.0,240.2 252.3,241.2 256.0,241.0 C259.7,240.8 264.3,239.3 266.0,239.0" fill="none" stroke="#3e2004" stroke-width="4" opacity="0.85" stroke-linecap="round"/>
<path d="M179.0,200.0 C178.8,205.0 178.5,220.7 178.0,230.0 C177.5,239.3 176.3,251.7 176.0,256.0" fill="none" stroke="#3e2004" stroke-width="7" opacity="0.55" stroke-linecap="round"/>
<path d="M188.0,165.0 C188.5,167.5 191.2,175.5 191.0,180.0 C190.8,184.5 187.7,190.0 187.0,192.0" fill="none" stroke="#3e2004" stroke-width="5" opacity="0.4" stroke-linecap="round"/>
</g>
<path d="M207.0,131.0 C208.2,130.5 211.5,128.4 214.0,128.0 C216.5,127.6 219.3,127.7 222.0,128.5 C224.7,129.3 228.0,130.8 230.0,133.0 C232.0,135.2 233.0,138.5 234.0,142.0 C235.0,145.5 235.2,150.0 236.0,154.0 C236.8,158.0 237.3,162.2 239.0,166.0 C240.7,169.8 242.8,174.2 246.0,177.0 C249.2,179.8 253.0,181.7 258.0,183.0 C263.0,184.3 270.7,185.2 276.0,185.0 C281.3,184.8 287.7,182.5 290.0,182.0" fill="none" stroke="#d89030" stroke-width="1.2" opacity="0.45" stroke-linecap="round"/>
<g filter="url(#g1_5)"><path d="M206.0,134.0 C207.3,133.6 211.5,131.8 214.0,131.5 C216.5,131.2 218.7,131.2 221.0,132.0 C223.3,132.8 226.3,133.8 228.0,136.0 C229.7,138.2 230.2,141.5 231.0,145.0 C231.8,148.5 232.2,153.2 233.0,157.0 C233.8,160.8 234.3,164.3 236.0,168.0 C237.7,171.7 239.7,176.0 243.0,179.0 C246.3,182.0 250.5,184.5 256.0,186.0 C261.5,187.5 270.3,188.2 276.0,188.0 C281.7,187.8 287.7,185.5 290.0,185.0" fill="none" stroke="#3e2004" stroke-width="2" opacity="0.45" stroke-linecap="round"/></g>
<path d="M236.4,45.1 C236.2,44.0 238.0,41.9 239.7,40.5 C241.3,39.1 244.1,37.4 246.3,36.6 C248.5,35.8 250.7,35.5 252.9,35.9 C255.1,36.3 257.2,37.3 259.4,39.2 C261.6,41.1 263.6,44.0 266.0,47.1 C268.4,50.2 271.3,54.5 273.9,57.6 C276.5,60.7 280.2,63.6 281.8,65.5 C283.4,67.4 283.9,68.0 283.7,68.8 C283.5,69.6 281.8,69.8 280.4,70.1 C279.0,70.4 276.7,69.9 275.2,70.7 C273.7,71.5 272.2,73.2 271.2,74.7 C270.2,76.2 269.5,77.9 269.3,79.9 C269.1,81.9 269.1,84.3 269.9,86.5 C270.7,88.7 271.9,91.3 273.9,93.1 C275.9,94.8 278.5,95.9 281.8,97.0 C285.1,98.1 290.5,98.7 293.6,99.6 C296.7,100.5 298.8,101.2 300.2,102.3 C301.6,103.4 302.0,104.9 302.1,106.2 C302.2,107.5 301.4,108.1 300.9,110.0 C300.4,111.9 299.8,114.5 298.9,117.5 C298.0,120.5 296.0,124.6 295.8,127.7 C295.6,130.8 298.1,133.2 297.8,135.9 C297.5,138.6 295.2,141.3 293.8,144.0 C292.4,146.7 290.2,149.1 289.7,152.2 C289.2,155.3 289.8,159.0 290.7,162.4 C291.6,165.8 293.9,170.4 294.8,172.7 C295.7,175.0 296.2,174.5 295.8,176.1 C295.4,177.7 293.9,180.2 292.7,182.3 C291.5,184.4 288.9,186.0 288.6,188.4 C288.3,190.8 290.5,193.5 290.7,196.6 C290.9,199.7 290.0,203.4 289.7,206.8 C289.4,210.2 288.6,213.2 288.6,217.0 C288.6,220.8 289.2,225.6 289.7,229.3 C290.2,233.1 291.0,235.8 291.7,239.5 C292.4,243.2 293.4,249.0 293.8,251.7 C294.2,254.4 295.5,254.4 293.8,255.8 C292.1,257.2 289.6,258.6 283.5,259.9 C277.4,261.2 266.5,262.8 257.0,263.6 C247.5,264.5 236.5,265.3 226.3,265.0 C216.1,264.7 204.5,263.4 195.7,262.0 C186.8,260.6 177.3,258.3 173.2,256.9 C169.1,255.5 171.4,256.0 171.1,253.8 C170.8,251.6 170.8,247.3 171.1,243.6 C171.4,239.8 172.3,235.1 173.2,231.3 C174.0,227.6 175.0,225.2 176.2,221.1 C177.4,217.0 178.9,211.2 180.3,206.8 C181.7,202.4 183.2,198.6 184.4,194.5 C185.6,190.4 187.5,185.3 187.5,182.3 C187.5,179.3 185.2,179.3 184.4,176.7 C183.6,174.1 182.6,169.9 182.4,166.5 C182.2,163.1 182.9,159.7 183.4,156.3 C183.9,152.9 185.2,149.5 185.4,146.1 C185.6,142.7 184.4,139.3 184.4,135.9 C184.4,132.5 184.6,129.6 185.4,125.7 C186.2,121.8 186.1,115.3 189.5,112.4 C192.9,109.5 200.8,109.3 205.9,108.3 C211.0,107.3 215.5,107.1 220.0,106.5 C224.5,105.9 228.7,105.8 233.1,104.9 C237.5,104.0 242.6,102.5 246.3,101.0 C250.0,99.5 253.1,97.9 255.5,95.7 C257.9,93.5 259.4,90.4 260.7,87.8 C262.0,85.2 262.8,83.0 263.4,79.9 C263.9,76.8 264.2,72.2 264.0,69.4 C263.8,66.6 263.4,64.9 262.0,62.9 C260.6,60.9 256.9,59.4 255.5,57.6 C254.1,55.8 254.4,53.8 253.5,52.3 C252.6,50.8 252.3,49.3 250.2,48.4 C248.1,47.5 243.3,47.6 241.0,47.1 C238.7,46.6 236.6,46.2 236.4,45.1Z" fill="none" stroke="#a9822c" stroke-width="5.6"/>
<path d="M236.4,45.1 C236.2,44.0 238.0,41.9 239.7,40.5 C241.3,39.1 244.1,37.4 246.3,36.6 C248.5,35.8 250.7,35.5 252.9,35.9 C255.1,36.3 257.2,37.3 259.4,39.2 C261.6,41.1 263.6,44.0 266.0,47.1 C268.4,50.2 271.3,54.5 273.9,57.6 C276.5,60.7 280.2,63.6 281.8,65.5 C283.4,67.4 283.9,68.0 283.7,68.8 C283.5,69.6 281.8,69.8 280.4,70.1 C279.0,70.4 276.7,69.9 275.2,70.7 C273.7,71.5 272.2,73.2 271.2,74.7 C270.2,76.2 269.5,77.9 269.3,79.9 C269.1,81.9 269.1,84.3 269.9,86.5 C270.7,88.7 271.9,91.3 273.9,93.1 C275.9,94.8 278.5,95.9 281.8,97.0 C285.1,98.1 290.5,98.7 293.6,99.6 C296.7,100.5 298.8,101.2 300.2,102.3 C301.6,103.4 302.0,104.9 302.1,106.2 C302.2,107.5 301.4,108.1 300.9,110.0 C300.4,111.9 299.8,114.5 298.9,117.5 C298.0,120.5 296.0,124.6 295.8,127.7 C295.6,130.8 298.1,133.2 297.8,135.9 C297.5,138.6 295.2,141.3 293.8,144.0 C292.4,146.7 290.2,149.1 289.7,152.2 C289.2,155.3 289.8,159.0 290.7,162.4 C291.6,165.8 293.9,170.4 294.8,172.7 C295.7,175.0 296.2,174.5 295.8,176.1 C295.4,177.7 293.9,180.2 292.7,182.3 C291.5,184.4 288.9,186.0 288.6,188.4 C288.3,190.8 290.5,193.5 290.7,196.6 C290.9,199.7 290.0,203.4 289.7,206.8 C289.4,210.2 288.6,213.2 288.6,217.0 C288.6,220.8 289.2,225.6 289.7,229.3 C290.2,233.1 291.0,235.8 291.7,239.5 C292.4,243.2 293.4,249.0 293.8,251.7 C294.2,254.4 295.5,254.4 293.8,255.8 C292.1,257.2 289.6,258.6 283.5,259.9 C277.4,261.2 266.5,262.8 257.0,263.6 C247.5,264.5 236.5,265.3 226.3,265.0 C216.1,264.7 204.5,263.4 195.7,262.0 C186.8,260.6 177.3,258.3 173.2,256.9 C169.1,255.5 171.4,256.0 171.1,253.8 C170.8,251.6 170.8,247.3 171.1,243.6 C171.4,239.8 172.3,235.1 173.2,231.3 C174.0,227.6 175.0,225.2 176.2,221.1 C177.4,217.0 178.9,211.2 180.3,206.8 C181.7,202.4 183.2,198.6 184.4,194.5 C185.6,190.4 187.5,185.3 187.5,182.3 C187.5,179.3 185.2,179.3 184.4,176.7 C183.6,174.1 182.6,169.9 182.4,166.5 C182.2,163.1 182.9,159.7 183.4,156.3 C183.9,152.9 185.2,149.5 185.4,146.1 C185.6,142.7 184.4,139.3 184.4,135.9 C184.4,132.5 184.6,129.6 185.4,125.7 C186.2,121.8 186.1,115.3 189.5,112.4 C192.9,109.5 200.8,109.3 205.9,108.3 C211.0,107.3 215.5,107.1 220.0,106.5 C224.5,105.9 228.7,105.8 233.1,104.9 C237.5,104.0 242.6,102.5 246.3,101.0 C250.0,99.5 253.1,97.9 255.5,95.7 C257.9,93.5 259.4,90.4 260.7,87.8 C262.0,85.2 262.8,83.0 263.4,79.9 C263.9,76.8 264.2,72.2 264.0,69.4 C263.8,66.6 263.4,64.9 262.0,62.9 C260.6,60.9 256.9,59.4 255.5,57.6 C254.1,55.8 254.4,53.8 253.5,52.3 C252.6,50.8 252.3,49.3 250.2,48.4 C248.1,47.5 243.3,47.6 241.0,47.1 C238.7,46.6 236.6,46.2 236.4,45.1Z" fill="none" stroke="#6e5214" stroke-width="1.2" opacity="0.7"/>
</g>
<path d="M242,127 C245,119 256,116 266,117 C276,118 284,126 290,134 C293,140 292,148 287,150 C278,151 270,149 262,149 C252,148 245,144 243,137 Z" fill="#bd8a32"/>
<ellipse cx="265.2" cy="134.1" rx="14.8" ry="11" fill="#fff" transform="rotate(22 265.2 134.1)"/>
<ellipse cx="286.4" cy="116" rx="3.5" ry="2.3" fill="#c8923a" transform="rotate(25 286.4 116)"/>
<g clip-path="url(#c3)">
<path d="M422.5,85.1 C424.5,84.5 426.0,85.7 428.6,87.5 C431.2,89.3 435.0,93.7 438.2,95.9 C441.4,98.1 444.2,99.2 447.8,100.8 C451.4,102.4 455.5,104.4 459.9,105.6 C464.3,106.8 470.9,107.2 474.3,108.0 C477.7,108.8 480.1,108.8 480.3,110.4 C480.5,112.0 478.1,115.2 475.5,117.6 C472.9,120.0 468.5,122.4 464.7,124.8 C460.9,127.2 455.6,129.7 452.6,132.1 C449.6,134.5 446.6,137.3 446.6,139.3 C446.6,141.3 448.8,142.9 452.6,144.1 C456.4,145.3 465.9,145.3 469.5,146.5 C473.1,147.7 473.0,148.8 474.0,151.0 C475.0,153.2 475.0,156.7 475.7,160.0 C476.4,163.3 476.8,167.3 478.2,171.0 C479.6,174.7 482.9,179.0 484.4,182.3 C485.8,185.6 487.1,188.1 486.9,191.0 C486.7,193.9 485.3,196.1 483.2,199.6 C481.1,203.1 477.0,208.7 474.5,212.0 C472.0,215.3 469.5,217.0 468.3,219.5 C467.1,222.0 467.0,224.2 467.2,227.0 C467.4,229.8 468.3,233.0 469.5,236.0 C470.7,239.0 473.1,242.5 474.5,245.0 C475.9,247.5 477.2,249.1 478.0,251.0 C478.8,252.9 479.4,254.9 479.5,256.4 C479.6,257.9 483.8,258.8 478.3,260.0 C472.9,261.2 457.9,262.5 446.8,263.4 C435.7,264.3 423.5,265.3 411.8,265.3 C400.1,265.3 388.4,264.3 376.7,263.4 C365.0,262.5 347.7,260.8 341.7,260.0 C335.7,259.2 340.5,259.8 340.5,258.8 C340.5,257.8 341.1,257.1 341.7,254.0 C342.3,250.9 343.4,244.0 344.0,240.0 C344.6,236.0 343.8,233.7 345.2,230.0 C346.6,226.3 351.8,220.9 352.2,217.7 C352.6,214.5 349.1,213.0 347.5,210.7 C345.9,208.4 343.8,206.0 342.8,203.7 C341.8,201.4 341.9,199.0 341.7,196.7 C341.5,194.4 341.9,192.0 341.7,189.7 C341.5,187.4 340.1,185.0 340.5,182.7 C340.9,180.4 342.8,177.8 344.0,175.7 C345.2,173.6 347.9,172.2 347.5,169.9 C347.1,167.6 344.4,164.2 341.7,161.7 C339.0,159.2 332.8,156.0 331.2,154.7 C329.6,153.3 330.6,154.4 332.3,153.6 C334.1,152.8 338.2,151.0 341.7,150.0 C345.2,149.0 350.6,148.5 353.4,147.7 C356.2,146.9 357.9,146.6 358.6,145.4 C359.3,144.2 357.8,142.3 357.4,140.7 C357.0,139.1 356.2,137.6 356.3,136.0 C356.4,134.4 357.9,133.0 358.0,131.4 C358.1,129.8 358.1,128.8 356.9,126.7 C355.7,124.5 352.3,120.5 351.0,118.5 C349.7,116.5 347.0,116.2 349.3,115.0 C351.6,113.8 358.5,112.0 365.0,111.0 C371.5,110.0 381.6,110.0 388.4,109.2 C395.2,108.4 402.1,107.9 406.0,106.3 C409.9,104.7 409.9,102.1 411.7,99.6 C413.4,97.1 414.7,93.5 416.5,91.1 C418.3,88.7 420.5,85.7 422.5,85.1Z" fill="#bb6912"/>
<g filter="url(#g5)">
<path d="M352.0,116.0 C354.0,113.8 362.8,113.7 370.0,113.0 C377.2,112.3 388.3,112.5 395.0,112.0 C401.7,111.5 407.8,108.0 410.0,110.0 C412.2,112.0 411.3,121.3 408.0,124.0 C404.7,126.7 396.3,125.5 390.0,126.0 C383.7,126.5 375.3,127.0 370.0,127.0 C364.7,127.0 361.0,127.8 358.0,126.0 C355.0,124.2 350.0,118.2 352.0,116.0Z" fill="#cf7614" opacity="0.8"/>
<path d="M438.0,104.0 C440.5,103.0 449.3,106.8 455.0,108.0 C460.7,109.2 470.2,109.0 472.0,111.0 C473.8,113.0 469.3,118.2 466.0,120.0 C462.7,121.8 456.3,123.0 452.0,122.0 C447.7,121.0 442.3,117.0 440.0,114.0 C437.7,111.0 435.5,105.0 438.0,104.0Z" fill="#cf7614" opacity="0.7"/>
<ellipse cx="392" cy="163" rx="22" ry="13" fill="#cf7614" opacity="0.9"/>
<ellipse cx="443" cy="160" rx="18" ry="11" fill="#cf7614" opacity="0.6"/>
<ellipse cx="475" cy="185" rx="7" ry="11" fill="#cf7614" opacity="0.6"/>
<ellipse cx="410" cy="254" rx="62" ry="6" fill="#cf7614" opacity="0.6"/>
</g>
<g filter="url(#g3)">
<path d="M358.0,132.0 C360.8,129.8 368.8,131.2 375.0,131.0 C381.2,130.8 389.2,131.3 395.0,131.0 C400.8,130.7 405.0,129.2 410.0,129.0 C415.0,128.8 420.0,130.0 425.0,130.0 C430.0,130.0 435.0,129.5 440.0,129.0 C445.0,128.5 451.3,126.7 455.0,127.0 C458.7,127.3 462.0,129.2 462.0,131.0 C462.0,132.8 458.7,136.5 455.0,138.0 C451.3,139.5 445.0,139.3 440.0,140.0 C435.0,140.7 428.7,141.0 425.0,142.0 C421.3,143.0 421.3,145.0 418.0,146.0 C414.7,147.0 410.5,147.7 405.0,148.0 C399.5,148.3 391.5,148.2 385.0,148.0 C378.5,147.8 370.5,147.7 366.0,147.0 C361.5,146.3 359.3,146.5 358.0,144.0 C356.7,141.5 355.2,134.2 358.0,132.0Z" fill="#3e2004" opacity="0.85"/>
<path d="M436.0,113.0 C437.7,110.5 446.3,113.5 450.0,115.0 C453.7,116.5 457.7,119.5 458.0,122.0 C458.3,124.5 455.0,128.7 452.0,130.0 C449.0,131.3 442.7,132.8 440.0,130.0 C437.3,127.2 434.3,115.5 436.0,113.0Z" fill="#3e2004" opacity="0.45"/>
<path d="M340.0,158.0 C341.8,156.3 348.0,157.0 352.0,158.0 C356.0,159.0 361.3,161.0 364.0,164.0 C366.7,167.0 368.7,173.0 368.0,176.0 C367.3,179.0 363.3,181.7 360.0,182.0 C356.7,182.3 351.2,180.3 348.0,178.0 C344.8,175.7 342.3,171.3 341.0,168.0 C339.7,164.7 338.2,159.7 340.0,158.0Z" fill="#3e2004" opacity="0.6"/>
</g>
<g filter="url(#g2_5)">
<path d="M433.0,96.0 C432.7,98.3 432.2,105.0 431.0,110.0 C429.8,115.0 426.8,123.3 426.0,126.0" fill="none" stroke="#3e2004" stroke-width="3" opacity="0.55" stroke-linecap="round"/>
<path d="M419.0,140.0 C419.0,142.5 418.7,149.2 419.0,155.0 C419.3,160.8 420.7,171.7 421.0,175.0" fill="none" stroke="#3e2004" stroke-width="2" opacity="0.55" stroke-linecap="round"/>
<path d="M368.0,180.0 C370.8,179.0 378.8,179.8 385.0,180.0 C391.2,180.2 398.3,180.8 405.0,181.0 C411.7,181.2 419.8,180.8 425.0,181.0 C430.2,181.2 434.2,181.0 436.0,182.0 C437.8,183.0 438.7,186.0 436.0,187.0 C433.3,188.0 426.0,187.8 420.0,188.0 C414.0,188.2 406.7,188.0 400.0,188.0 C393.3,188.0 385.3,188.3 380.0,188.0 C374.7,187.7 370.0,187.3 368.0,186.0 C366.0,184.7 365.2,181.0 368.0,180.0Z" fill="#3e2004" opacity="0.8"/>
<path d="M436.0,192.0 C438.3,190.5 445.2,190.7 450.0,191.0 C454.8,191.3 461.0,192.5 465.0,194.0 C469.0,195.5 473.2,197.3 474.0,200.0 C474.8,202.7 472.0,207.3 470.0,210.0 C468.0,212.7 464.5,216.7 462.0,216.0 C459.5,215.3 457.8,208.0 455.0,206.0 C452.2,204.0 448.2,205.0 445.0,204.0 C441.8,203.0 437.5,202.0 436.0,200.0 C434.5,198.0 433.7,193.5 436.0,192.0Z" fill="#3e2004" opacity="0.85"/>
<path d="M356.0,202.0 C359.2,200.5 367.7,201.0 375.0,201.0 C382.3,201.0 392.5,201.8 400.0,202.0 C407.5,202.2 414.0,202.3 420.0,202.0 C426.0,201.7 432.7,199.3 436.0,200.0 C439.3,200.7 441.8,204.3 440.0,206.0 C438.2,207.7 430.8,208.8 425.0,210.0 C419.2,211.2 411.7,212.3 405.0,213.0 C398.3,213.7 391.7,213.8 385.0,214.0 C378.3,214.2 369.8,214.7 365.0,214.0 C360.2,213.3 357.5,212.0 356.0,210.0 C354.5,208.0 352.8,203.5 356.0,202.0Z" fill="#3e2004" opacity="0.8"/>
<path d="M405.0,213.0 C408.3,212.0 418.3,211.8 425.0,212.0 C431.7,212.2 440.0,213.0 445.0,214.0 C450.0,215.0 455.8,217.0 455.0,218.0 C454.2,219.0 445.8,219.7 440.0,220.0 C434.2,220.3 425.8,220.3 420.0,220.0 C414.2,219.7 407.5,219.2 405.0,218.0 C402.5,216.8 401.7,214.0 405.0,213.0Z" fill="#3e2004" opacity="0.6"/>
<ellipse cx="376" cy="238" rx="6" ry="3.5" fill="#3e2004" opacity="0.7"/>
<path d="M350.0,236.0 C352.0,236.0 358.7,235.7 362.0,236.0 C365.3,236.3 368.7,237.7 370.0,238.0" fill="none" stroke="#3e2004" stroke-width="2.5" opacity="0.5" stroke-linecap="round"/>
<path d="M420.0,232.0 C424.2,232.7 438.0,235.7 445.0,236.0 C452.0,236.3 459.2,234.3 462.0,234.0" fill="none" stroke="#3e2004" stroke-width="2.5" opacity="0.45" stroke-linecap="round"/>
<path d="M346.0,176.0 C347.3,177.0 351.7,180.0 354.0,182.0 C356.3,184.0 359.0,187.0 360.0,188.0" fill="none" stroke="#3e2004" stroke-width="2" opacity="0.45" stroke-linecap="round"/>
</g>
<path d="M358.0,196.0 C361.7,196.2 373.0,196.8 380.0,197.0 C387.0,197.2 393.7,197.3 400.0,197.0 C406.3,196.7 415.0,195.3 418.0,195.0" fill="none" stroke="#c89a3a" stroke-width="1.1" opacity="0.6" stroke-linecap="round"/>
<path d="M425.0,176.0 C427.5,176.2 434.5,177.0 440.0,177.0 C445.5,177.0 453.3,176.8 458.0,176.0 C462.7,175.2 466.3,172.7 468.0,172.0" fill="none" stroke="#c89a3a" stroke-width="1.1" opacity="0.6" stroke-linecap="round"/>
<path d="M346.0,166.0 C347.7,167.3 352.3,171.7 356.0,174.0 C359.7,176.3 366.0,179.0 368.0,180.0" fill="none" stroke="#c89a3a" stroke-width="1" opacity="0.6" stroke-linecap="round"/>
<path d="M422.5,85.1 C424.5,84.5 426.0,85.7 428.6,87.5 C431.2,89.3 435.0,93.7 438.2,95.9 C441.4,98.1 444.2,99.2 447.8,100.8 C451.4,102.4 455.5,104.4 459.9,105.6 C464.3,106.8 470.9,107.2 474.3,108.0 C477.7,108.8 480.1,108.8 480.3,110.4 C480.5,112.0 478.1,115.2 475.5,117.6 C472.9,120.0 468.5,122.4 464.7,124.8 C460.9,127.2 455.6,129.7 452.6,132.1 C449.6,134.5 446.6,137.3 446.6,139.3 C446.6,141.3 448.8,142.9 452.6,144.1 C456.4,145.3 465.9,145.3 469.5,146.5 C473.1,147.7 473.0,148.8 474.0,151.0 C475.0,153.2 475.0,156.7 475.7,160.0 C476.4,163.3 476.8,167.3 478.2,171.0 C479.6,174.7 482.9,179.0 484.4,182.3 C485.8,185.6 487.1,188.1 486.9,191.0 C486.7,193.9 485.3,196.1 483.2,199.6 C481.1,203.1 477.0,208.7 474.5,212.0 C472.0,215.3 469.5,217.0 468.3,219.5 C467.1,222.0 467.0,224.2 467.2,227.0 C467.4,229.8 468.3,233.0 469.5,236.0 C470.7,239.0 473.1,242.5 474.5,245.0 C475.9,247.5 477.2,249.1 478.0,251.0 C478.8,252.9 479.4,254.9 479.5,256.4 C479.6,257.9 483.8,258.8 478.3,260.0 C472.9,261.2 457.9,262.5 446.8,263.4 C435.7,264.3 423.5,265.3 411.8,265.3 C400.1,265.3 388.4,264.3 376.7,263.4 C365.0,262.5 347.7,260.8 341.7,260.0 C335.7,259.2 340.5,259.8 340.5,258.8 C340.5,257.8 341.1,257.1 341.7,254.0 C342.3,250.9 343.4,244.0 344.0,240.0 C344.6,236.0 343.8,233.7 345.2,230.0 C346.6,226.3 351.8,220.9 352.2,217.7 C352.6,214.5 349.1,213.0 347.5,210.7 C345.9,208.4 343.8,206.0 342.8,203.7 C341.8,201.4 341.9,199.0 341.7,196.7 C341.5,194.4 341.9,192.0 341.7,189.7 C341.5,187.4 340.1,185.0 340.5,182.7 C340.9,180.4 342.8,177.8 344.0,175.7 C345.2,173.6 347.9,172.2 347.5,169.9 C347.1,167.6 344.4,164.2 341.7,161.7 C339.0,159.2 332.8,156.0 331.2,154.7 C329.6,153.3 330.6,154.4 332.3,153.6 C334.1,152.8 338.2,151.0 341.7,150.0 C345.2,149.0 350.6,148.5 353.4,147.7 C356.2,146.9 357.9,146.6 358.6,145.4 C359.3,144.2 357.8,142.3 357.4,140.7 C357.0,139.1 356.2,137.6 356.3,136.0 C356.4,134.4 357.9,133.0 358.0,131.4 C358.1,129.8 358.1,128.8 356.9,126.7 C355.7,124.5 352.3,120.5 351.0,118.5 C349.7,116.5 347.0,116.2 349.3,115.0 C351.6,113.8 358.5,112.0 365.0,111.0 C371.5,110.0 381.6,110.0 388.4,109.2 C395.2,108.4 402.1,107.9 406.0,106.3 C409.9,104.7 409.9,102.1 411.7,99.6 C413.4,97.1 414.7,93.5 416.5,91.1 C418.3,88.7 420.5,85.7 422.5,85.1Z" fill="none" stroke="#a88e2e" stroke-width="3.8"/>
<path d="M422.5,85.1 C424.5,84.5 426.0,85.7 428.6,87.5 C431.2,89.3 435.0,93.7 438.2,95.9 C441.4,98.1 444.2,99.2 447.8,100.8 C451.4,102.4 455.5,104.4 459.9,105.6 C464.3,106.8 470.9,107.2 474.3,108.0 C477.7,108.8 480.1,108.8 480.3,110.4 C480.5,112.0 478.1,115.2 475.5,117.6 C472.9,120.0 468.5,122.4 464.7,124.8 C460.9,127.2 455.6,129.7 452.6,132.1 C449.6,134.5 446.6,137.3 446.6,139.3 C446.6,141.3 448.8,142.9 452.6,144.1 C456.4,145.3 465.9,145.3 469.5,146.5 C473.1,147.7 473.0,148.8 474.0,151.0 C475.0,153.2 475.0,156.7 475.7,160.0 C476.4,163.3 476.8,167.3 478.2,171.0 C479.6,174.7 482.9,179.0 484.4,182.3 C485.8,185.6 487.1,188.1 486.9,191.0 C486.7,193.9 485.3,196.1 483.2,199.6 C481.1,203.1 477.0,208.7 474.5,212.0 C472.0,215.3 469.5,217.0 468.3,219.5 C467.1,222.0 467.0,224.2 467.2,227.0 C467.4,229.8 468.3,233.0 469.5,236.0 C470.7,239.0 473.1,242.5 474.5,245.0 C475.9,247.5 477.2,249.1 478.0,251.0 C478.8,252.9 479.4,254.9 479.5,256.4 C479.6,257.9 483.8,258.8 478.3,260.0 C472.9,261.2 457.9,262.5 446.8,263.4 C435.7,264.3 423.5,265.3 411.8,265.3 C400.1,265.3 388.4,264.3 376.7,263.4 C365.0,262.5 347.7,260.8 341.7,260.0 C335.7,259.2 340.5,259.8 340.5,258.8 C340.5,257.8 341.1,257.1 341.7,254.0 C342.3,250.9 343.4,244.0 344.0,240.0 C344.6,236.0 343.8,233.7 345.2,230.0 C346.6,226.3 351.8,220.9 352.2,217.7 C352.6,214.5 349.1,213.0 347.5,210.7 C345.9,208.4 343.8,206.0 342.8,203.7 C341.8,201.4 341.9,199.0 341.7,196.7 C341.5,194.4 341.9,192.0 341.7,189.7 C341.5,187.4 340.1,185.0 340.5,182.7 C340.9,180.4 342.8,177.8 344.0,175.7 C345.2,173.6 347.9,172.2 347.5,169.9 C347.1,167.6 344.4,164.2 341.7,161.7 C339.0,159.2 332.8,156.0 331.2,154.7 C329.6,153.3 330.6,154.4 332.3,153.6 C334.1,152.8 338.2,151.0 341.7,150.0 C345.2,149.0 350.6,148.5 353.4,147.7 C356.2,146.9 357.9,146.6 358.6,145.4 C359.3,144.2 357.8,142.3 357.4,140.7 C357.0,139.1 356.2,137.6 356.3,136.0 C356.4,134.4 357.9,133.0 358.0,131.4 C358.1,129.8 358.1,128.8 356.9,126.7 C355.7,124.5 352.3,120.5 351.0,118.5 C349.7,116.5 347.0,116.2 349.3,115.0 C351.6,113.8 358.5,112.0 365.0,111.0 C371.5,110.0 381.6,110.0 388.4,109.2 C395.2,108.4 402.1,107.9 406.0,106.3 C409.9,104.7 409.9,102.1 411.7,99.6 C413.4,97.1 414.7,93.5 416.5,91.1 C418.3,88.7 420.5,85.7 422.5,85.1Z" fill="none" stroke="#6a5414" stroke-width="1" opacity="0.5"/>
<path d="M446,133 C449,138 452,143 460,145 L470,146 C462,147 452,146 447,142 C444,139 444,136 446,133 Z" fill="#b09030"/>
</g>
<path d="M412.1,59.4 C412.7,59.5 412.4,61.0 413.8,61.6 C415.2,62.2 419.0,62.7 420.7,63.3 C422.4,63.9 423.4,64.4 423.9,65.4 C424.3,66.4 423.8,67.6 423.4,69.1 C423.0,70.6 422.6,72.7 421.8,74.5 C421.0,76.3 419.8,78.5 418.6,79.9 C417.4,81.3 416.1,82.9 414.8,83.1 C413.6,83.3 412.6,82.0 411.1,80.9 C409.6,79.8 406.8,78.1 405.7,76.7 C404.6,75.3 405.0,74.0 404.6,72.4 C404.2,70.8 403.7,68.4 403.6,67.0 C403.5,65.6 403.4,64.7 404.1,63.8 C404.8,62.9 406.8,62.0 407.9,61.6 C409.0,61.2 409.8,61.5 410.5,61.1 C411.2,60.7 411.6,59.3 412.1,59.4Z" fill="#a88a28"/>
<path d="M412.1,59.4 C412.7,59.5 412.4,61.0 413.8,61.6 C415.2,62.2 419.0,62.7 420.7,63.3 C422.4,63.9 423.4,64.4 423.9,65.4 C424.3,66.4 423.8,67.6 423.4,69.1 C423.0,70.6 422.6,72.7 421.8,74.5 C421.0,76.3 419.8,78.5 418.6,79.9 C417.4,81.3 416.1,82.9 414.8,83.1 C413.6,83.3 412.6,82.0 411.1,80.9 C409.6,79.8 406.8,78.1 405.7,76.7 C404.6,75.3 405.0,74.0 404.6,72.4 C404.2,70.8 403.7,68.4 403.6,67.0 C403.5,65.6 403.4,64.7 404.1,63.8 C404.8,62.9 406.8,62.0 407.9,61.6 C409.0,61.2 409.8,61.5 410.5,61.1 C411.2,60.7 411.6,59.3 412.1,59.4Z" fill="#5e3208" transform="translate(413.8 71.5) scale(0.78 0.8) translate(-413.8 -71.5)"/>
<ellipse cx="410.2" cy="66.2" rx="1.6" ry="1.7" fill="#c89a2a"/>
<g clip-path="url(#c4)">
<path d="M535.7,89.3 C534.9,88.3 536.7,85.9 539.3,84.5 C541.9,83.1 547.1,82.3 551.3,80.8 C555.5,79.3 562.0,75.5 564.6,75.3 C567.2,75.1 566.4,77.7 567.0,79.6 C567.6,81.5 566.8,84.5 568.2,86.9 C569.6,89.3 572.2,92.1 575.4,94.1 C578.6,96.1 583.0,97.7 587.4,98.9 C591.8,100.1 596.3,101.1 601.9,101.3 C607.5,101.5 615.2,100.7 621.2,100.1 C627.2,99.5 634.0,97.7 638.0,97.7 C642.0,97.7 643.6,98.3 645.2,100.1 C646.8,101.9 646.8,105.5 647.6,108.5 C648.4,111.5 648.9,115.4 650.1,118.2 C651.3,121.0 653.6,122.9 654.9,125.4 C656.2,127.9 657.8,131.1 657.7,133.0 C657.7,134.9 656.0,135.4 654.6,137.0 C653.2,138.6 649.2,140.2 649.6,142.4 C650.0,144.6 654.1,147.6 657.0,149.9 C659.9,152.2 663.7,154.6 667.0,156.0 C670.3,157.4 674.7,157.1 677.0,158.5 C679.3,159.9 679.8,162.8 680.6,164.7 C681.4,166.6 681.7,167.6 681.9,169.7 C682.1,171.8 681.8,175.0 681.9,177.1 C682.0,179.2 683.0,180.0 682.5,182.1 C682.0,184.2 681.1,187.1 679.1,189.6 C677.1,192.1 673.5,194.4 670.7,196.8 C667.9,199.2 664.0,202.0 662.4,204.0 C660.8,206.0 660.6,207.0 661.2,208.8 C661.8,210.6 664.2,212.8 666.0,214.8 C667.8,216.8 670.7,218.5 672.0,220.7 C673.3,222.9 673.9,226.0 673.7,228.0 C673.5,230.0 671.4,231.1 670.7,232.7 C670.0,234.3 669.6,235.5 669.5,237.5 C669.4,239.5 669.8,242.3 670.1,244.7 C670.4,247.1 670.9,249.9 671.3,251.9 C671.7,253.9 672.6,255.4 672.5,256.7 C672.4,258.0 676.1,258.4 670.7,259.5 C665.4,260.6 651.5,262.2 640.4,263.0 C629.3,263.8 616.3,264.4 604.3,264.5 C592.3,264.6 580.5,264.5 568.2,263.3 C556.0,262.1 537.1,259.1 530.8,257.5 C524.5,255.9 530.0,255.9 530.2,254.0 C530.4,252.1 531.9,249.6 532.0,246.3 C532.1,243.0 531.2,238.7 530.8,234.3 C530.3,229.9 529.7,223.3 529.3,220.0 C528.9,216.7 528.2,216.8 528.2,214.7 C528.2,212.6 529.5,209.6 529.3,207.7 C529.1,205.8 527.0,204.9 527.0,203.0 C527.0,201.1 529.1,198.3 529.3,196.0 C529.5,193.7 528.8,191.3 528.2,189.0 C527.6,186.7 526.6,184.3 525.8,182.0 C525.0,179.7 522.9,177.1 523.5,175.0 C524.1,172.9 527.0,170.8 529.3,169.2 C531.6,167.6 534.8,167.1 537.5,165.7 C540.2,164.3 543.4,162.4 545.7,161.0 C548.0,159.6 550.7,158.9 551.5,157.5 C552.3,156.1 549.8,154.0 550.4,152.8 C551.0,151.6 552.7,151.3 555.0,150.5 C557.3,149.7 562.1,149.2 564.4,148.2 C566.7,147.2 567.8,146.1 569.0,144.7 C570.2,143.3 571.5,141.4 571.4,140.0 C571.3,138.6 569.1,137.0 568.2,136.0 C567.3,135.0 568.6,135.0 565.8,133.8 C563.0,132.6 555.1,130.0 551.3,129.0 C547.5,128.0 544.1,128.4 542.9,127.8 C541.7,127.2 542.3,126.4 544.1,125.4 C545.9,124.4 550.7,123.4 553.7,121.8 C556.7,120.2 560.1,118.4 562.1,115.8 C564.1,113.2 565.4,109.3 565.8,106.1 C566.2,102.9 566.2,99.1 564.6,96.5 C563.0,93.9 559.5,91.5 556.1,90.5 C552.7,89.5 547.5,90.7 544.1,90.5 C540.7,90.3 536.5,90.3 535.7,89.3Z" fill="#bd6a12"/>
<g filter="url(#g5)">
<path d="M575.0,100.0 C578.0,98.0 591.7,102.7 600.0,103.0 C608.3,103.3 618.0,102.5 625.0,102.0 C632.0,101.5 638.2,97.8 642.0,100.0 C645.8,102.2 646.3,110.3 648.0,115.0 C649.7,119.7 653.3,125.2 652.0,128.0 C650.7,130.8 645.3,130.7 640.0,132.0 C634.7,133.3 626.7,135.7 620.0,136.0 C613.3,136.3 605.3,135.3 600.0,134.0 C594.7,132.7 591.0,131.2 588.0,128.0 C585.0,124.8 584.2,119.7 582.0,115.0 C579.8,110.3 572.0,102.0 575.0,100.0Z" fill="#cf7614" opacity="0.8"/>
<path d="M634.0,146.0 C636.7,142.3 644.8,144.3 650.0,146.0 C655.2,147.7 660.3,153.3 665.0,156.0 C669.7,158.7 675.5,158.8 678.0,162.0 C680.5,165.2 682.2,172.3 680.0,175.0 C677.8,177.7 670.8,177.8 665.0,178.0 C659.2,178.2 650.2,177.7 645.0,176.0 C639.8,174.3 635.8,173.0 634.0,168.0 C632.2,163.0 631.3,149.7 634.0,146.0Z" fill="#cf7614" opacity="0.7"/>
<ellipse cx="578" cy="182" rx="22" ry="15" fill="#cf7614" opacity="0.9"/>
<ellipse cx="645" cy="210" rx="18" ry="9" fill="#cf7614" opacity="0.8"/>
<ellipse cx="600" cy="254" rx="64" ry="6" fill="#cf7614" opacity="0.6"/>
</g>
<g filter="url(#g3)">
<path d="M548.0,87.0 C548.8,86.2 556.5,87.5 560.0,89.0 C563.5,90.5 566.3,92.8 569.0,96.0 C571.7,99.2 573.7,103.7 576.0,108.0 C578.3,112.3 581.2,117.3 583.0,122.0 C584.8,126.7 587.5,133.0 587.0,136.0 C586.5,139.0 582.3,140.7 580.0,140.0 C577.7,139.3 575.2,135.7 573.0,132.0 C570.8,128.3 568.7,122.7 567.0,118.0 C565.3,113.3 565.0,108.0 563.0,104.0 C561.0,100.0 557.5,96.8 555.0,94.0 C552.5,91.2 547.2,87.8 548.0,87.0Z" fill="#3e2004" opacity="0.85"/>
<path d="M574.0,140.0 C577.0,138.8 584.8,140.5 590.0,141.0 C595.2,141.5 600.0,142.8 605.0,143.0 C610.0,143.2 615.0,142.8 620.0,142.0 C625.0,141.2 630.0,139.2 635.0,138.0 C640.0,136.8 647.2,134.3 650.0,135.0 C652.8,135.7 653.7,139.8 652.0,142.0 C650.3,144.2 644.5,146.3 640.0,148.0 C635.5,149.7 630.8,151.0 625.0,152.0 C619.2,153.0 611.7,154.0 605.0,154.0 C598.3,154.0 590.5,153.0 585.0,152.0 C579.5,151.0 573.8,150.0 572.0,148.0 C570.2,146.0 571.0,141.2 574.0,140.0Z" fill="#3e2004" opacity="0.85"/>
<path d="M552.0,152.0 C553.7,150.3 561.7,149.5 568.0,150.0 C574.3,150.5 583.0,153.7 590.0,155.0 C597.0,156.3 606.3,156.5 610.0,158.0 C613.7,159.5 614.5,163.0 612.0,164.0 C609.5,165.0 601.2,164.5 595.0,164.0 C588.8,163.5 581.2,161.7 575.0,161.0 C568.8,160.3 561.8,161.5 558.0,160.0 C554.2,158.5 550.3,153.7 552.0,152.0Z" fill="#3e2004" opacity="0.5"/>
<path d="M612.0,148.0 C613.8,143.7 621.2,143.3 625.0,142.0 C628.8,140.7 634.2,138.7 635.0,140.0 C635.8,141.3 631.5,145.8 630.0,150.0 C628.5,154.2 626.0,160.7 626.0,165.0 C626.0,169.3 630.7,173.8 630.0,176.0 C629.3,178.2 624.7,179.3 622.0,178.0 C619.3,176.7 615.7,173.0 614.0,168.0 C612.3,163.0 610.2,152.3 612.0,148.0Z" fill="#3e2004" opacity="0.75"/>
<path d="M612.0,182.0 C616.2,179.5 623.7,180.3 630.0,180.0 C636.3,179.7 643.7,179.7 650.0,180.0 C656.3,180.3 663.0,181.0 668.0,182.0 C673.0,183.0 679.3,183.7 680.0,186.0 C680.7,188.3 676.2,193.8 672.0,196.0 C667.8,198.2 661.2,198.5 655.0,199.0 C648.8,199.5 641.7,199.2 635.0,199.0 C628.3,198.8 620.0,198.7 615.0,198.0 C610.0,197.3 605.5,197.7 605.0,195.0 C604.5,192.3 607.8,184.5 612.0,182.0Z" fill="#3e2004" opacity="0.85"/>
</g>
<g filter="url(#g2_5)">
<path d="M524.0,177.0 C525.2,175.8 531.0,180.8 535.0,183.0 C539.0,185.2 544.5,187.7 548.0,190.0 C551.5,192.3 556.0,195.2 556.0,197.0 C556.0,198.8 551.5,200.7 548.0,201.0 C544.5,201.3 538.3,200.8 535.0,199.0 C531.7,197.2 529.8,193.7 528.0,190.0 C526.2,186.3 522.8,178.2 524.0,177.0Z" fill="#3e2004" opacity="0.6"/>
<path d="M546.0,163.0 C546.3,164.2 547.5,167.7 548.0,170.0 C548.5,172.3 548.8,175.8 549.0,177.0" fill="none" stroke="#3e2004" stroke-width="2" opacity="0.55" stroke-linecap="round"/>
<path d="M540.0,209.0 C541.2,210.0 544.7,212.7 547.0,215.0 C549.3,217.3 552.8,221.7 554.0,223.0" fill="none" stroke="#3e2004" stroke-width="2.5" opacity="0.6" stroke-linecap="round"/>
<path d="M552.0,201.0 C555.0,201.7 563.7,204.3 570.0,205.0 C576.3,205.7 583.3,205.8 590.0,205.0 C596.7,204.2 606.7,200.8 610.0,200.0" fill="none" stroke="#3e2004" stroke-width="3" opacity="0.45" stroke-linecap="round"/>
<path d="M552.0,227.0 C552.0,225.7 557.7,224.7 562.0,224.0 C566.3,223.3 572.5,223.3 578.0,223.0 C583.5,222.7 589.3,222.3 595.0,222.0 C600.7,221.7 606.2,221.3 612.0,221.0 C617.8,220.7 624.0,220.2 630.0,220.0 C636.0,219.8 643.7,219.5 648.0,220.0 C652.3,220.5 656.0,221.8 656.0,223.0 C656.0,224.2 652.3,226.2 648.0,227.0 C643.7,227.8 636.0,227.5 630.0,228.0 C624.0,228.5 617.8,229.2 612.0,230.0 C606.2,230.8 600.7,232.3 595.0,233.0 C589.3,233.7 583.5,234.2 578.0,234.0 C572.5,233.8 566.3,233.2 562.0,232.0 C557.7,230.8 552.0,228.3 552.0,227.0Z" fill="#3e2004" opacity="0.9"/>
<path d="M530.0,238.0 C533.3,237.2 542.5,237.8 550.0,238.0 C557.5,238.2 566.7,238.7 575.0,239.0 C583.3,239.3 591.7,239.8 600.0,240.0 C608.3,240.2 616.7,240.0 625.0,240.0 C633.3,240.0 642.5,240.2 650.0,240.0 C657.5,239.8 666.7,238.5 670.0,239.0 C673.3,239.5 673.3,242.0 670.0,243.0 C666.7,244.0 657.5,244.7 650.0,245.0 C642.5,245.3 633.3,245.0 625.0,245.0 C616.7,245.0 608.3,245.0 600.0,245.0 C591.7,245.0 583.3,245.0 575.0,245.0 C566.7,245.0 557.5,245.3 550.0,245.0 C542.5,244.7 533.3,244.2 530.0,243.0 C526.7,241.8 526.7,238.8 530.0,238.0Z" fill="#3e2004" opacity="0.75"/>
<path d="M634.0,205.0 C635.0,206.2 637.7,210.2 640.0,212.0 C642.3,213.8 646.7,215.3 648.0,216.0" fill="none" stroke="#3e2004" stroke-width="2" opacity="0.4" stroke-linecap="round"/>
</g>
<path d="M549.0,191.0 C551.0,192.2 557.0,196.2 561.0,198.0 C565.0,199.8 568.2,201.6 573.0,202.0 C577.8,202.4 585.5,201.5 590.0,200.7 C594.5,199.9 595.7,199.4 600.0,197.0 C604.3,194.6 611.0,189.3 616.0,186.0 C621.0,182.7 624.3,178.3 630.0,177.0 C635.7,175.7 643.7,177.7 650.0,178.0 C656.3,178.3 665.0,178.8 668.0,179.0" fill="none" stroke="#b09030" stroke-width="1" opacity="0.7" stroke-linecap="round"/>
<path d="M575.0,140.0 C577.5,139.7 585.0,137.8 590.0,138.0 C595.0,138.2 600.0,140.5 605.0,141.0 C610.0,141.5 615.0,141.5 620.0,141.0 C625.0,140.5 630.0,139.2 635.0,138.0 C640.0,136.8 647.5,134.7 650.0,134.0" fill="none" stroke="#b09030" stroke-width="1" opacity="0.5" stroke-linecap="round"/>
<path d="M535.7,89.3 C534.9,88.3 536.7,85.9 539.3,84.5 C541.9,83.1 547.1,82.3 551.3,80.8 C555.5,79.3 562.0,75.5 564.6,75.3 C567.2,75.1 566.4,77.7 567.0,79.6 C567.6,81.5 566.8,84.5 568.2,86.9 C569.6,89.3 572.2,92.1 575.4,94.1 C578.6,96.1 583.0,97.7 587.4,98.9 C591.8,100.1 596.3,101.1 601.9,101.3 C607.5,101.5 615.2,100.7 621.2,100.1 C627.2,99.5 634.0,97.7 638.0,97.7 C642.0,97.7 643.6,98.3 645.2,100.1 C646.8,101.9 646.8,105.5 647.6,108.5 C648.4,111.5 648.9,115.4 650.1,118.2 C651.3,121.0 653.6,122.9 654.9,125.4 C656.2,127.9 657.8,131.1 657.7,133.0 C657.7,134.9 656.0,135.4 654.6,137.0 C653.2,138.6 649.2,140.2 649.6,142.4 C650.0,144.6 654.1,147.6 657.0,149.9 C659.9,152.2 663.7,154.6 667.0,156.0 C670.3,157.4 674.7,157.1 677.0,158.5 C679.3,159.9 679.8,162.8 680.6,164.7 C681.4,166.6 681.7,167.6 681.9,169.7 C682.1,171.8 681.8,175.0 681.9,177.1 C682.0,179.2 683.0,180.0 682.5,182.1 C682.0,184.2 681.1,187.1 679.1,189.6 C677.1,192.1 673.5,194.4 670.7,196.8 C667.9,199.2 664.0,202.0 662.4,204.0 C660.8,206.0 660.6,207.0 661.2,208.8 C661.8,210.6 664.2,212.8 666.0,214.8 C667.8,216.8 670.7,218.5 672.0,220.7 C673.3,222.9 673.9,226.0 673.7,228.0 C673.5,230.0 671.4,231.1 670.7,232.7 C670.0,234.3 669.6,235.5 669.5,237.5 C669.4,239.5 669.8,242.3 670.1,244.7 C670.4,247.1 670.9,249.9 671.3,251.9 C671.7,253.9 672.6,255.4 672.5,256.7 C672.4,258.0 676.1,258.4 670.7,259.5 C665.4,260.6 651.5,262.2 640.4,263.0 C629.3,263.8 616.3,264.4 604.3,264.5 C592.3,264.6 580.5,264.5 568.2,263.3 C556.0,262.1 537.1,259.1 530.8,257.5 C524.5,255.9 530.0,255.9 530.2,254.0 C530.4,252.1 531.9,249.6 532.0,246.3 C532.1,243.0 531.2,238.7 530.8,234.3 C530.3,229.9 529.7,223.3 529.3,220.0 C528.9,216.7 528.2,216.8 528.2,214.7 C528.2,212.6 529.5,209.6 529.3,207.7 C529.1,205.8 527.0,204.9 527.0,203.0 C527.0,201.1 529.1,198.3 529.3,196.0 C529.5,193.7 528.8,191.3 528.2,189.0 C527.6,186.7 526.6,184.3 525.8,182.0 C525.0,179.7 522.9,177.1 523.5,175.0 C524.1,172.9 527.0,170.8 529.3,169.2 C531.6,167.6 534.8,167.1 537.5,165.7 C540.2,164.3 543.4,162.4 545.7,161.0 C548.0,159.6 550.7,158.9 551.5,157.5 C552.3,156.1 549.8,154.0 550.4,152.8 C551.0,151.6 552.7,151.3 555.0,150.5 C557.3,149.7 562.1,149.2 564.4,148.2 C566.7,147.2 567.8,146.1 569.0,144.7 C570.2,143.3 571.5,141.4 571.4,140.0 C571.3,138.6 569.1,137.0 568.2,136.0 C567.3,135.0 568.6,135.0 565.8,133.8 C563.0,132.6 555.1,130.0 551.3,129.0 C547.5,128.0 544.1,128.4 542.9,127.8 C541.7,127.2 542.3,126.4 544.1,125.4 C545.9,124.4 550.7,123.4 553.7,121.8 C556.7,120.2 560.1,118.4 562.1,115.8 C564.1,113.2 565.4,109.3 565.8,106.1 C566.2,102.9 566.2,99.1 564.6,96.5 C563.0,93.9 559.5,91.5 556.1,90.5 C552.7,89.5 547.5,90.7 544.1,90.5 C540.7,90.3 536.5,90.3 535.7,89.3Z" fill="none" stroke="#a88e2e" stroke-width="3"/>
<path d="M535.7,89.3 C534.9,88.3 536.7,85.9 539.3,84.5 C541.9,83.1 547.1,82.3 551.3,80.8 C555.5,79.3 562.0,75.5 564.6,75.3 C567.2,75.1 566.4,77.7 567.0,79.6 C567.6,81.5 566.8,84.5 568.2,86.9 C569.6,89.3 572.2,92.1 575.4,94.1 C578.6,96.1 583.0,97.7 587.4,98.9 C591.8,100.1 596.3,101.1 601.9,101.3 C607.5,101.5 615.2,100.7 621.2,100.1 C627.2,99.5 634.0,97.7 638.0,97.7 C642.0,97.7 643.6,98.3 645.2,100.1 C646.8,101.9 646.8,105.5 647.6,108.5 C648.4,111.5 648.9,115.4 650.1,118.2 C651.3,121.0 653.6,122.9 654.9,125.4 C656.2,127.9 657.8,131.1 657.7,133.0 C657.7,134.9 656.0,135.4 654.6,137.0 C653.2,138.6 649.2,140.2 649.6,142.4 C650.0,144.6 654.1,147.6 657.0,149.9 C659.9,152.2 663.7,154.6 667.0,156.0 C670.3,157.4 674.7,157.1 677.0,158.5 C679.3,159.9 679.8,162.8 680.6,164.7 C681.4,166.6 681.7,167.6 681.9,169.7 C682.1,171.8 681.8,175.0 681.9,177.1 C682.0,179.2 683.0,180.0 682.5,182.1 C682.0,184.2 681.1,187.1 679.1,189.6 C677.1,192.1 673.5,194.4 670.7,196.8 C667.9,199.2 664.0,202.0 662.4,204.0 C660.8,206.0 660.6,207.0 661.2,208.8 C661.8,210.6 664.2,212.8 666.0,214.8 C667.8,216.8 670.7,218.5 672.0,220.7 C673.3,222.9 673.9,226.0 673.7,228.0 C673.5,230.0 671.4,231.1 670.7,232.7 C670.0,234.3 669.6,235.5 669.5,237.5 C669.4,239.5 669.8,242.3 670.1,244.7 C670.4,247.1 670.9,249.9 671.3,251.9 C671.7,253.9 672.6,255.4 672.5,256.7 C672.4,258.0 676.1,258.4 670.7,259.5 C665.4,260.6 651.5,262.2 640.4,263.0 C629.3,263.8 616.3,264.4 604.3,264.5 C592.3,264.6 580.5,264.5 568.2,263.3 C556.0,262.1 537.1,259.1 530.8,257.5 C524.5,255.9 530.0,255.9 530.2,254.0 C530.4,252.1 531.9,249.6 532.0,246.3 C532.1,243.0 531.2,238.7 530.8,234.3 C530.3,229.9 529.7,223.3 529.3,220.0 C528.9,216.7 528.2,216.8 528.2,214.7 C528.2,212.6 529.5,209.6 529.3,207.7 C529.1,205.8 527.0,204.9 527.0,203.0 C527.0,201.1 529.1,198.3 529.3,196.0 C529.5,193.7 528.8,191.3 528.2,189.0 C527.6,186.7 526.6,184.3 525.8,182.0 C525.0,179.7 522.9,177.1 523.5,175.0 C524.1,172.9 527.0,170.8 529.3,169.2 C531.6,167.6 534.8,167.1 537.5,165.7 C540.2,164.3 543.4,162.4 545.7,161.0 C548.0,159.6 550.7,158.9 551.5,157.5 C552.3,156.1 549.8,154.0 550.4,152.8 C551.0,151.6 552.7,151.3 555.0,150.5 C557.3,149.7 562.1,149.2 564.4,148.2 C566.7,147.2 567.8,146.1 569.0,144.7 C570.2,143.3 571.5,141.4 571.4,140.0 C571.3,138.6 569.1,137.0 568.2,136.0 C567.3,135.0 568.6,135.0 565.8,133.8 C563.0,132.6 555.1,130.0 551.3,129.0 C547.5,128.0 544.1,128.4 542.9,127.8 C541.7,127.2 542.3,126.4 544.1,125.4 C545.9,124.4 550.7,123.4 553.7,121.8 C556.7,120.2 560.1,118.4 562.1,115.8 C564.1,113.2 565.4,109.3 565.8,106.1 C566.2,102.9 566.2,99.1 564.6,96.5 C563.0,93.9 559.5,91.5 556.1,90.5 C552.7,89.5 547.5,90.7 544.1,90.5 C540.7,90.3 536.5,90.3 535.7,89.3Z" fill="none" stroke="#6a5414" stroke-width="1" opacity="0.5"/>
</g>
<line x1="240.6" y1="644.1" x2="240.6" y2="334.5" stroke="#555" stroke-width="1.1" stroke-dasharray="1.1 5.4"/>
<line x1="365.1" y1="644.1" x2="365.1" y2="334.5" stroke="#555" stroke-width="1.1" stroke-dasharray="1.1 5.4"/>
<line x1="489.7" y1="644.1" x2="489.7" y2="334.5" stroke="#555" stroke-width="1.1" stroke-dasharray="1.1 5.4"/>
<line x1="115.6" y1="541.2" x2="614.2" y2="541.2" stroke="#555" stroke-width="1.1" stroke-dasharray="1.1 5.4"/>
<line x1="115.6" y1="437.9" x2="614.2" y2="437.9" stroke="#555" stroke-width="1.1" stroke-dasharray="1.1 5.4"/>
<rect x="116.1" y="334.5" width="498.1" height="310.1" fill="none" stroke="#222" stroke-width="1.3"/>
<line x1="240.6" y1="644.6" x2="240.6" y2="636.1" stroke="#222" stroke-width="1.2"/>
<line x1="240.6" y1="334.5" x2="240.6" y2="343.0" stroke="#222" stroke-width="1.2"/>
<line x1="365.1" y1="644.6" x2="365.1" y2="636.1" stroke="#222" stroke-width="1.2"/>
<line x1="365.1" y1="334.5" x2="365.1" y2="343.0" stroke="#222" stroke-width="1.2"/>
<line x1="489.7" y1="644.6" x2="489.7" y2="636.1" stroke="#222" stroke-width="1.2"/>
<line x1="489.7" y1="334.5" x2="489.7" y2="343.0" stroke="#222" stroke-width="1.2"/>
<line x1="116.1" y1="541.2" x2="124.6" y2="541.2" stroke="#222" stroke-width="1.2"/>
<line x1="614.2" y1="541.2" x2="605.7" y2="541.2" stroke="#222" stroke-width="1.2"/>
<line x1="116.1" y1="437.9" x2="124.6" y2="437.9" stroke="#222" stroke-width="1.2"/>
<line x1="614.2" y1="437.9" x2="605.7" y2="437.9" stroke="#222" stroke-width="1.2"/>
<polyline points="116.0,644.6 200.0,644.6 240.0,644.2 258.0,642.8 277.0,639.7 297.0,631.5 317.7,620.3 329.9,606.0 340.1,588.6 350.4,570.2 358.7,560.0 363.8,557.4 370.0,563.1 375.5,569.6 386.4,586.6 396.6,600.9 406.8,611.1 417.0,625.4 427.2,635.6 437.4,640.7 451.7,643.8 470.0,644.6 614.0,644.6" fill="none" stroke="#e41a1c" stroke-width="3.2" stroke-linejoin="round"/>
<polyline points="116.0,644.6 170.0,644.6 193.0,643.8 215.0,642.0 239.0,640.5 259.0,637.2 281.0,632.0 301.3,621.3 317.7,610.0 329.9,595.8 340.1,576.3 346.3,562.0 353.6,539.6 360.0,533.0 366.7,537.4 378.4,557.2 382.3,570.2 386.4,586.6 392.5,605.0 398.6,619.3 406.8,631.5 417.0,640.7 427.2,643.4 440.0,644.6 614.0,644.6" fill="none" stroke="#377eb8" stroke-width="3.2" stroke-dasharray="6.4 4.5"/>
<polyline points="116.0,644.6 230.0,644.6 260.0,643.2 281.0,639.7 301.3,632.6 317.7,626.4 334.0,615.2 346.3,600.9 353.4,588.6 358.5,572.3 361.6,562.0 363.8,545.5 369.6,519.2 375.5,495.5 381.3,514.8 385.7,530.9 390.0,560.0 392.5,576.3 396.6,596.8 400.7,613.1 406.8,627.4 415.0,637.7 423.1,642.8 435.0,644.6 559.0,644.6" fill="none" stroke="#4daf4a" stroke-width="3.2" stroke-dasharray="6.4 4.4 1.3 4.2"/>
<polyline points="153.5,644.6 240.0,644.6 262.0,643.2 281.0,640.7 301.3,637.3 321.7,630.5 338.1,621.3 348.3,611.1 354.4,596.8 357.5,580.4 359.4,558.6 362.3,533.8 363.8,500.0 366.4,437.7 369.5,394.7 370.5,373.9 373.2,394.7 376.2,437.7 379.3,500.0 381.3,533.8 384.2,571.8 386.4,584.5 389.4,607.0 393.5,623.4 398.6,635.6 406.8,642.8 415.0,644.2 425.0,644.6 441.0,644.6" fill="none" stroke="#984ea3" stroke-width="3.2" stroke-dasharray="3.5 2"/>
<polygon points="370.6,373.3 367.9,388 373.9,388" fill="#984ea3"/>
<polygon points="375.5,494.8 372.2,503.5 378.9,503.5" fill="#4daf4a"/>
<rect x="487.6" y="340.6" width="116" height="102.2" fill="#fff" stroke="#222" stroke-width="1.1"/>
<line x1="495.4" y1="356.6" x2="533.2" y2="356.6" stroke="#e41a1c" stroke-width="3.2"/>
<text transform="translate(538.96,361.82) scale(0.9679,0.9044)" font-family="Liberation Serif" font-size="20" fill="#111" stroke="#fff" stroke-width="0.128">case</text>
<text transform="translate(578.93,361.80) scale(0.8722,0.9846)" font-family="Liberation Serif" font-size="20" fill="#111" stroke="#fff" stroke-width="0.129">A</text>
<line x1="495.4" y1="380.4" x2="533.2" y2="380.4" stroke="#377eb8" stroke-width="3.2" stroke-dasharray="6.4 4.5"/>
<text transform="translate(538.96,385.12) scale(0.9679,0.9044)" font-family="Liberation Serif" font-size="20" fill="#111" stroke="#fff" stroke-width="0.128">case</text>
<text transform="translate(578.50,385.04) scale(1.0435,0.9883)" font-family="Liberation Serif" font-size="20" fill="#111" stroke="#fff" stroke-width="0.118">B</text>
<line x1="495.4" y1="404.0" x2="533.2" y2="404.0" stroke="#4daf4a" stroke-width="3.2" stroke-dasharray="6.4 4.4 1.3 4.2"/>
<text transform="translate(538.96,408.52) scale(0.9679,0.9044)" font-family="Liberation Serif" font-size="20" fill="#111" stroke="#fff" stroke-width="0.128">case</text>
<text transform="translate(578.24,408.60) scale(1.0424,1.0121)" font-family="Liberation Serif" font-size="20" fill="#111" stroke="#fff" stroke-width="0.117">C</text>
<line x1="495.4" y1="427.5" x2="533.2" y2="427.5" stroke="#984ea3" stroke-width="3.2" stroke-dasharray="3.5 2"/>
<text transform="translate(538.96,431.82) scale(0.9679,0.9044)" font-family="Liberation Serif" font-size="20" fill="#111" stroke="#fff" stroke-width="0.128">case</text>
<text transform="translate(578.56,431.76) scale(0.9413,0.9897)" font-family="Liberation Serif" font-size="20" fill="#111" stroke="#fff" stroke-width="0.124">D</text>
<text transform="translate(99.41,650.82) scale(1.0382,0.8966)" font-family="Liberation Serif" font-size="20" fill="#111" stroke="#fff" stroke-width="0.124">0</text>
<text transform="translate(99.62,547.90) scale(0.9681,0.9192)" font-family="Liberation Serif" font-size="20" fill="#111" stroke="#fff" stroke-width="0.127">4</text>
<text transform="translate(99.09,443.72) scale(1.0618,0.8966)" font-family="Liberation Serif" font-size="20" fill="#111" stroke="#fff" stroke-width="0.123">8</text>
<text transform="translate(90.21,340.00) scale(0.9627,0.8835)" font-family="Liberation Serif" font-size="20" fill="#111" stroke="#fff" stroke-width="0.130">12</text>
<text transform="translate(104.22,663.10) scale(1.0848,0.8634)" font-family="Liberation Serif" font-size="20" fill="#111" stroke="#fff" stroke-width="0.123">−1</text>
<text transform="translate(221.66,663.35) scale(1.0405,0.8981)" font-family="Liberation Serif" font-size="20" fill="#111" stroke="#fff" stroke-width="0.124">−0.5</text>
<text transform="translate(359.93,663.22) scale(1.0146,0.9040)" font-family="Liberation Serif" font-size="20" fill="#111" stroke="#fff" stroke-width="0.125">0</text>
<text transform="translate(477.26,663.05) scale(0.9677,0.8908)" font-family="Liberation Serif" font-size="20" fill="#111" stroke="#fff" stroke-width="0.129">0.5</text>
<text transform="translate(609.28,663.50) scale(0.9232,0.8862)" font-family="Liberation Serif" font-size="20" fill="#111" stroke="#fff" stroke-width="0.133">1</text>
<text transform="translate(323.83,689.80) scale(1.1892,0.9804)" font-family="Liberation Serif" font-size="20" font-style="italic" fill="#111" stroke="#fff" stroke-width="0.111">κ</text>
<text transform="translate(336.06,692.10) scale(1.1568,0.7428)" font-family="Liberation Serif" font-size="20" font-style="italic" fill="#111" stroke="#fff" stroke-width="0.126">m</text>
<text transform="translate(358.94,692.14) scale(1.3645,1.1419)" font-family="Liberation Serif" font-size="20" fill="#111" stroke="#fff" stroke-width="0.096">×</text>
<text transform="translate(379.78,689.51) scale(1.0585,0.9739)" font-family="Liberation Serif" font-size="20" font-style="italic" fill="#111" stroke="#fff" stroke-width="0.118">δ</text>
<text transform="translate(388.95,693.13) scale(1.0831,0.8642)" font-family="Liberation Serif" font-size="20" font-style="italic" fill="#111" stroke="#fff" stroke-width="0.123">t</text>
<text transform="translate(395.75,693.30) scale(1.1720,0.7422)" font-family="Liberation Serif" font-size="20" font-style="italic" fill="#111" stroke="#fff" stroke-width="0.125">h</text>
<g transform="rotate(-90)"><text transform="translate(-563.65,73.50) scale(1.3031,1.0843)" font-family="Liberation Serif" font-size="20" fill="#111" stroke="#fff" stroke-width="0.101">P</text></g>
<g transform="rotate(-90)"><text transform="translate(-549.85,73.46) scale(1.1327,1.0811)" font-family="Liberation Serif" font-size="20" fill="#111" stroke="#fff" stroke-width="0.108">D</text></g>
<g transform="rotate(-90)"><text transform="translate(-534.07,73.50) scale(1.3436,1.0843)" font-family="Liberation Serif" font-size="20" fill="#111" stroke="#fff" stroke-width="0.099">F</text></g>
<g transform="rotate(-90)"><text transform="translate(-514.71,73.58) scale(1.0318,1.1084)" font-family="Liberation Serif" font-size="20" fill="#111" stroke="#fff" stroke-width="0.112">(</text></g>
<g transform="rotate(-90)"><text transform="translate(-507.55,73.50) scale(1.5745,1.0349)" font-family="Liberation Serif" font-size="20" font-style="italic" fill="#111" stroke="#fff" stroke-width="0.092">κ</text></g>
<g transform="rotate(-90)"><text transform="translate(-493.41,76.10) scale(1.1179,0.8171)" font-family="Liberation Serif" font-size="20" font-style="italic" fill="#111" stroke="#fff" stroke-width="0.124">m</text></g>
<g transform="rotate(-90)"><text transform="translate(-471.28,76.30) scale(1.3153,1.2401)" font-family="Liberation Serif" font-size="20" fill="#111" stroke="#fff" stroke-width="0.094">×</text></g>
<g transform="rotate(-90)"><text transform="translate(-451.37,72.31) scale(1.1365,0.9668)" font-family="Liberation Serif" font-size="20" font-style="italic" fill="#111" stroke="#fff" stroke-width="0.114">δ</text></g>
<g transform="rotate(-90)"><text transform="translate(-440.23,77.75) scale(1.0634,0.7769)" font-family="Liberation Serif" font-size="20" font-style="italic" fill="#111" stroke="#fff" stroke-width="0.130">t</text></g>
<g transform="rotate(-90)"><text transform="translate(-434.71,77.90) scale(1.1246,0.6846)" font-family="Liberation Serif" font-size="20" font-style="italic" fill="#111" stroke="#fff" stroke-width="0.133">h</text></g>
<g transform="rotate(-90)"><text transform="translate(-423.43,73.27) scale(1.2849,1.0863)" font-family="Liberation Serif" font-size="20" fill="#111" stroke="#fff" stroke-width="0.101">)</text></g>
<text transform="translate(330.59,18.76) scale(1.2654,1.1359)" font-family="Liberation Serif" font-size="20" fill="#000" stroke="#000" stroke-width="0.100">(</text>
<text transform="translate(338.42,19.37) scale(1.2041,1.1900)" font-family="Liberation Serif" font-size="20" font-weight="bold" fill="#000" stroke="#000" stroke-width="0.100">a</text>
<text transform="translate(350.26,18.76) scale(1.3043,1.1359)" font-family="Liberation Serif" font-size="20" fill="#000" stroke="#000" stroke-width="0.098">)</text>
<text transform="translate(330.05,306.80) scale(1.3043,1.1745)" font-family="Liberation Serif" font-size="20" fill="#000" stroke="#000" stroke-width="0.097">(</text>
<text transform="translate(338.90,307.37) scale(1.1831,1.1796)" font-family="Liberation Serif" font-size="20" font-weight="bold" fill="#000" stroke="#000" stroke-width="0.102">b</text>
<text transform="translate(351.26,306.80) scale(1.3043,1.1745)" font-family="Liberation Serif" font-size="20" fill="#000" stroke="#000" stroke-width="0.097">)</text>
</svg>
</body></html>
